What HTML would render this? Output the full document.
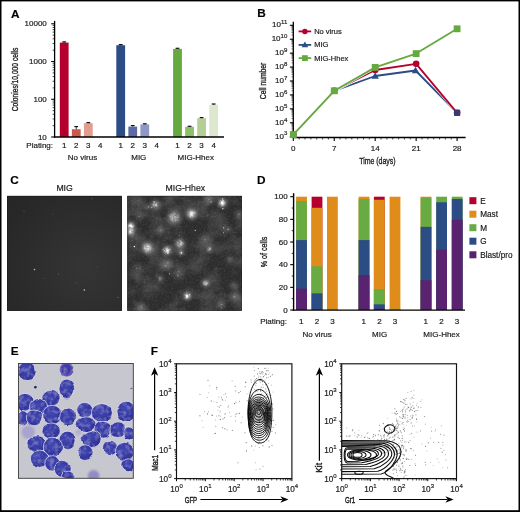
<!DOCTYPE html>
<html><head><meta charset="utf-8"><title>Figure</title>
<style>html,body{margin:0;padding:0;background:#fff;}body{width:520px;height:512px;overflow:hidden;}svg{display:block;}text{font-family:"Liberation Sans",sans-serif;stroke:#1a1a1a;stroke-width:0.18px;}text.c{stroke-width:0.32px;}text.f{stroke-width:0.42px;}</style>
</head><body>
<svg width="520" height="512" viewBox="0 0 520 512">
<rect x="0" y="0" width="520" height="512" fill="#fff"/>
<rect x="0" y="0" width="520" height="1.4" fill="#000"/><rect x="0" y="0" width="1.5" height="512" fill="#000"/><rect x="518.5" y="0" width="1.5" height="512" fill="#000"/><rect x="0" y="510.2" width="520" height="1.8" fill="#000"/>
<text x="10.90" y="17.60" font-size="11.8" text-anchor="start" font-weight="bold" fill="#000" >A</text>
<text x="257.20" y="17.40" font-size="11.8" text-anchor="start" font-weight="bold" fill="#000" >B</text>
<text x="10.25" y="184.10" font-size="11.8" text-anchor="start" font-weight="bold" fill="#000" >C</text>
<text x="257.05" y="184.20" font-size="11.8" text-anchor="start" font-weight="bold" fill="#000" >D</text>
<text x="10.70" y="355.40" font-size="11.8" text-anchor="start" font-weight="bold" fill="#000" >E</text>
<text x="150.70" y="355.40" font-size="11.8" text-anchor="start" font-weight="bold" fill="#000" >F</text>
<line x1="51.20" y1="23.80" x2="54.60" y2="23.80" stroke="#000" stroke-width="1.1" />
<text x="46.80" y="26.30" font-size="8" text-anchor="end" font-weight="normal" fill="#1a1a1a" >10000</text>
<line x1="52.60" y1="50.17" x2="54.60" y2="50.17" stroke="#000" stroke-width="0.7" />
<line x1="52.60" y1="43.53" x2="54.60" y2="43.53" stroke="#000" stroke-width="0.7" />
<line x1="52.60" y1="38.82" x2="54.60" y2="38.82" stroke="#000" stroke-width="0.7" />
<line x1="52.60" y1="35.16" x2="54.60" y2="35.16" stroke="#000" stroke-width="0.7" />
<line x1="52.60" y1="32.17" x2="54.60" y2="32.17" stroke="#000" stroke-width="0.7" />
<line x1="52.60" y1="29.64" x2="54.60" y2="29.64" stroke="#000" stroke-width="0.7" />
<line x1="52.60" y1="27.46" x2="54.60" y2="27.46" stroke="#000" stroke-width="0.7" />
<line x1="52.60" y1="25.53" x2="54.60" y2="25.53" stroke="#000" stroke-width="0.7" />
<line x1="51.20" y1="61.53" x2="54.60" y2="61.53" stroke="#000" stroke-width="1.1" />
<text x="46.80" y="64.03" font-size="8" text-anchor="end" font-weight="normal" fill="#1a1a1a" >1000</text>
<line x1="52.60" y1="87.91" x2="54.60" y2="87.91" stroke="#000" stroke-width="0.7" />
<line x1="52.60" y1="81.26" x2="54.60" y2="81.26" stroke="#000" stroke-width="0.7" />
<line x1="52.60" y1="76.55" x2="54.60" y2="76.55" stroke="#000" stroke-width="0.7" />
<line x1="52.60" y1="72.89" x2="54.60" y2="72.89" stroke="#000" stroke-width="0.7" />
<line x1="52.60" y1="69.90" x2="54.60" y2="69.90" stroke="#000" stroke-width="0.7" />
<line x1="52.60" y1="67.38" x2="54.60" y2="67.38" stroke="#000" stroke-width="0.7" />
<line x1="52.60" y1="65.19" x2="54.60" y2="65.19" stroke="#000" stroke-width="0.7" />
<line x1="52.60" y1="63.26" x2="54.60" y2="63.26" stroke="#000" stroke-width="0.7" />
<line x1="51.20" y1="99.27" x2="54.60" y2="99.27" stroke="#000" stroke-width="1.1" />
<text x="46.80" y="101.77" font-size="8" text-anchor="end" font-weight="normal" fill="#1a1a1a" >100</text>
<line x1="52.60" y1="125.64" x2="54.60" y2="125.64" stroke="#000" stroke-width="0.7" />
<line x1="52.60" y1="119.00" x2="54.60" y2="119.00" stroke="#000" stroke-width="0.7" />
<line x1="52.60" y1="114.28" x2="54.60" y2="114.28" stroke="#000" stroke-width="0.7" />
<line x1="52.60" y1="110.63" x2="54.60" y2="110.63" stroke="#000" stroke-width="0.7" />
<line x1="52.60" y1="107.64" x2="54.60" y2="107.64" stroke="#000" stroke-width="0.7" />
<line x1="52.60" y1="105.11" x2="54.60" y2="105.11" stroke="#000" stroke-width="0.7" />
<line x1="52.60" y1="102.92" x2="54.60" y2="102.92" stroke="#000" stroke-width="0.7" />
<line x1="52.60" y1="100.99" x2="54.60" y2="100.99" stroke="#000" stroke-width="0.7" />
<line x1="51.20" y1="137.00" x2="54.60" y2="137.00" stroke="#000" stroke-width="1.1" />
<text x="46.80" y="139.50" font-size="8" text-anchor="end" font-weight="normal" fill="#1a1a1a" >10</text>
<text x="18.30" y="79.50" font-size="9.5" text-anchor="middle" class="c" textLength="63.5" lengthAdjust="spacingAndGlyphs" fill="#1a1a1a" transform="rotate(-90 18.30 79.50)">Colonies/10,000 cells</text>
<rect x="59.80" y="42.60" width="8.80" height="94.40" fill="#B5002E" />
<line x1="64.20" y1="42.60" x2="64.20" y2="41.90" stroke="#222" stroke-width="0.9" />
<line x1="62.30" y1="41.90" x2="66.10" y2="41.90" stroke="#111" stroke-width="1.2" />
<rect x="71.85" y="129.20" width="8.80" height="7.80" fill="#CB584D" />
<line x1="76.25" y1="129.20" x2="76.25" y2="126.60" stroke="#222" stroke-width="0.9" />
<line x1="74.35" y1="126.60" x2="78.15" y2="126.60" stroke="#111" stroke-width="1.2" />
<rect x="83.90" y="123.20" width="8.80" height="13.80" fill="#E29D8E" />
<line x1="88.30" y1="123.20" x2="88.30" y2="122.60" stroke="#222" stroke-width="0.9" />
<line x1="86.40" y1="122.60" x2="90.20" y2="122.60" stroke="#111" stroke-width="1.2" />
<text x="64.20" y="148.20" font-size="8" text-anchor="middle" font-weight="normal" fill="#1a1a1a" >1</text>
<text x="76.25" y="148.20" font-size="8" text-anchor="middle" font-weight="normal" fill="#1a1a1a" >2</text>
<text x="88.30" y="148.20" font-size="8" text-anchor="middle" font-weight="normal" fill="#1a1a1a" >3</text>
<text x="100.35" y="148.20" font-size="8" text-anchor="middle" font-weight="normal" fill="#1a1a1a" >4</text>
<rect x="116.30" y="45.20" width="8.80" height="91.80" fill="#2C4C85" />
<line x1="120.70" y1="45.20" x2="120.70" y2="44.60" stroke="#222" stroke-width="0.9" />
<line x1="118.80" y1="44.60" x2="122.60" y2="44.60" stroke="#111" stroke-width="1.2" />
<rect x="128.35" y="126.60" width="8.80" height="10.40" fill="#5C6BA5" />
<line x1="132.75" y1="126.60" x2="132.75" y2="125.60" stroke="#222" stroke-width="0.9" />
<line x1="130.85" y1="125.60" x2="134.65" y2="125.60" stroke="#111" stroke-width="1.2" />
<rect x="140.40" y="124.40" width="8.80" height="12.60" fill="#8E97C6" />
<line x1="144.80" y1="124.40" x2="144.80" y2="123.80" stroke="#222" stroke-width="0.9" />
<line x1="142.90" y1="123.80" x2="146.70" y2="123.80" stroke="#111" stroke-width="1.2" />
<text x="120.70" y="148.20" font-size="8" text-anchor="middle" font-weight="normal" fill="#1a1a1a" >1</text>
<text x="132.75" y="148.20" font-size="8" text-anchor="middle" font-weight="normal" fill="#1a1a1a" >2</text>
<text x="144.80" y="148.20" font-size="8" text-anchor="middle" font-weight="normal" fill="#1a1a1a" >3</text>
<text x="156.85" y="148.20" font-size="8" text-anchor="middle" font-weight="normal" fill="#1a1a1a" >4</text>
<rect x="173.10" y="48.90" width="8.80" height="88.10" fill="#66A93F" />
<line x1="177.50" y1="48.90" x2="177.50" y2="48.30" stroke="#222" stroke-width="0.9" />
<line x1="175.60" y1="48.30" x2="179.40" y2="48.30" stroke="#111" stroke-width="1.2" />
<rect x="185.15" y="126.80" width="8.80" height="10.20" fill="#8DBE68" />
<line x1="189.55" y1="126.80" x2="189.55" y2="126.30" stroke="#222" stroke-width="0.9" />
<line x1="187.65" y1="126.30" x2="191.45" y2="126.30" stroke="#111" stroke-width="1.2" />
<rect x="197.20" y="118.20" width="8.80" height="18.80" fill="#B4CF95" />
<line x1="201.60" y1="118.20" x2="201.60" y2="117.60" stroke="#222" stroke-width="0.9" />
<line x1="199.70" y1="117.60" x2="203.50" y2="117.60" stroke="#111" stroke-width="1.2" />
<rect x="209.25" y="104.80" width="8.80" height="32.20" fill="#DDE7CE" />
<line x1="213.65" y1="104.80" x2="213.65" y2="104.00" stroke="#222" stroke-width="0.9" />
<line x1="211.75" y1="104.00" x2="215.55" y2="104.00" stroke="#111" stroke-width="1.2" />
<text x="177.50" y="148.20" font-size="8" text-anchor="middle" font-weight="normal" fill="#1a1a1a" >1</text>
<text x="189.55" y="148.20" font-size="8" text-anchor="middle" font-weight="normal" fill="#1a1a1a" >2</text>
<text x="201.60" y="148.20" font-size="8" text-anchor="middle" font-weight="normal" fill="#1a1a1a" >3</text>
<text x="213.65" y="148.20" font-size="8" text-anchor="middle" font-weight="normal" fill="#1a1a1a" >4</text>
<line x1="54.60" y1="20.90" x2="54.60" y2="137.65" stroke="#000" stroke-width="1.3" />
<line x1="53.95" y1="137.00" x2="224.00" y2="137.00" stroke="#000" stroke-width="1.3" />
<text x="53.00" y="148.20" font-size="8" text-anchor="end" font-weight="normal" fill="#1a1a1a" >Plating:</text>
<text x="82.50" y="160.20" font-size="8" text-anchor="middle" font-weight="normal" fill="#1a1a1a" >No virus</text>
<text x="138.80" y="160.20" font-size="8" text-anchor="middle" font-weight="normal" fill="#1a1a1a" >MIG</text>
<text x="195.80" y="160.20" font-size="8" text-anchor="middle" font-weight="normal" fill="#1a1a1a" >MIG-Hhex</text>
<line x1="293.30" y1="21.80" x2="293.30" y2="138.10" stroke="#000" stroke-width="1.3" />
<line x1="292.70" y1="137.50" x2="465.60" y2="137.50" stroke="#000" stroke-width="1.3" />
<line x1="289.90" y1="136.70" x2="293.30" y2="136.70" stroke="#000" stroke-width="1.1" />
<text x="287.30" y="138.80" font-size="8" text-anchor="end" fill="#1a1a1a">10<tspan font-size="6.08" dy="-3.36">3</tspan></text>
<line x1="291.50" y1="132.51" x2="293.30" y2="132.51" stroke="#000" stroke-width="0.5" />
<line x1="291.50" y1="130.06" x2="293.30" y2="130.06" stroke="#000" stroke-width="0.5" />
<line x1="291.50" y1="128.32" x2="293.30" y2="128.32" stroke="#000" stroke-width="0.5" />
<line x1="291.50" y1="126.97" x2="293.30" y2="126.97" stroke="#000" stroke-width="0.5" />
<line x1="291.50" y1="125.86" x2="293.30" y2="125.86" stroke="#000" stroke-width="0.5" />
<line x1="291.50" y1="124.93" x2="293.30" y2="124.93" stroke="#000" stroke-width="0.5" />
<line x1="291.50" y1="124.12" x2="293.30" y2="124.12" stroke="#000" stroke-width="0.5" />
<line x1="291.50" y1="123.41" x2="293.30" y2="123.41" stroke="#000" stroke-width="0.5" />
<line x1="289.90" y1="122.77" x2="293.30" y2="122.77" stroke="#000" stroke-width="1.1" />
<text x="287.30" y="124.87" font-size="8" text-anchor="end" fill="#1a1a1a">10<tspan font-size="6.08" dy="-3.36">4</tspan></text>
<line x1="291.50" y1="118.58" x2="293.30" y2="118.58" stroke="#000" stroke-width="0.5" />
<line x1="291.50" y1="116.13" x2="293.30" y2="116.13" stroke="#000" stroke-width="0.5" />
<line x1="291.50" y1="114.39" x2="293.30" y2="114.39" stroke="#000" stroke-width="0.5" />
<line x1="291.50" y1="113.04" x2="293.30" y2="113.04" stroke="#000" stroke-width="0.5" />
<line x1="291.50" y1="111.94" x2="293.30" y2="111.94" stroke="#000" stroke-width="0.5" />
<line x1="291.50" y1="111.01" x2="293.30" y2="111.01" stroke="#000" stroke-width="0.5" />
<line x1="291.50" y1="110.20" x2="293.30" y2="110.20" stroke="#000" stroke-width="0.5" />
<line x1="291.50" y1="109.49" x2="293.30" y2="109.49" stroke="#000" stroke-width="0.5" />
<line x1="289.90" y1="108.85" x2="293.30" y2="108.85" stroke="#000" stroke-width="1.1" />
<text x="287.30" y="110.95" font-size="8" text-anchor="end" fill="#1a1a1a">10<tspan font-size="6.08" dy="-3.36">5</tspan></text>
<line x1="291.50" y1="104.66" x2="293.30" y2="104.66" stroke="#000" stroke-width="0.5" />
<line x1="291.50" y1="102.21" x2="293.30" y2="102.21" stroke="#000" stroke-width="0.5" />
<line x1="291.50" y1="100.47" x2="293.30" y2="100.47" stroke="#000" stroke-width="0.5" />
<line x1="291.50" y1="99.12" x2="293.30" y2="99.12" stroke="#000" stroke-width="0.5" />
<line x1="291.50" y1="98.01" x2="293.30" y2="98.01" stroke="#000" stroke-width="0.5" />
<line x1="291.50" y1="97.08" x2="293.30" y2="97.08" stroke="#000" stroke-width="0.5" />
<line x1="291.50" y1="96.27" x2="293.30" y2="96.27" stroke="#000" stroke-width="0.5" />
<line x1="291.50" y1="95.56" x2="293.30" y2="95.56" stroke="#000" stroke-width="0.5" />
<line x1="289.90" y1="94.92" x2="293.30" y2="94.92" stroke="#000" stroke-width="1.1" />
<text x="287.30" y="97.02" font-size="8" text-anchor="end" fill="#1a1a1a">10<tspan font-size="6.08" dy="-3.36">6</tspan></text>
<line x1="291.50" y1="90.73" x2="293.30" y2="90.73" stroke="#000" stroke-width="0.5" />
<line x1="291.50" y1="88.28" x2="293.30" y2="88.28" stroke="#000" stroke-width="0.5" />
<line x1="291.50" y1="86.54" x2="293.30" y2="86.54" stroke="#000" stroke-width="0.5" />
<line x1="291.50" y1="85.19" x2="293.30" y2="85.19" stroke="#000" stroke-width="0.5" />
<line x1="291.50" y1="84.09" x2="293.30" y2="84.09" stroke="#000" stroke-width="0.5" />
<line x1="291.50" y1="83.16" x2="293.30" y2="83.16" stroke="#000" stroke-width="0.5" />
<line x1="291.50" y1="82.35" x2="293.30" y2="82.35" stroke="#000" stroke-width="0.5" />
<line x1="291.50" y1="81.64" x2="293.30" y2="81.64" stroke="#000" stroke-width="0.5" />
<line x1="289.90" y1="81.00" x2="293.30" y2="81.00" stroke="#000" stroke-width="1.1" />
<text x="287.30" y="83.10" font-size="8" text-anchor="end" fill="#1a1a1a">10<tspan font-size="6.08" dy="-3.36">7</tspan></text>
<line x1="291.50" y1="76.81" x2="293.30" y2="76.81" stroke="#000" stroke-width="0.5" />
<line x1="291.50" y1="74.36" x2="293.30" y2="74.36" stroke="#000" stroke-width="0.5" />
<line x1="291.50" y1="72.62" x2="293.30" y2="72.62" stroke="#000" stroke-width="0.5" />
<line x1="291.50" y1="71.27" x2="293.30" y2="71.27" stroke="#000" stroke-width="0.5" />
<line x1="291.50" y1="70.16" x2="293.30" y2="70.16" stroke="#000" stroke-width="0.5" />
<line x1="291.50" y1="69.23" x2="293.30" y2="69.23" stroke="#000" stroke-width="0.5" />
<line x1="291.50" y1="68.42" x2="293.30" y2="68.42" stroke="#000" stroke-width="0.5" />
<line x1="291.50" y1="67.71" x2="293.30" y2="67.71" stroke="#000" stroke-width="0.5" />
<line x1="289.90" y1="67.07" x2="293.30" y2="67.07" stroke="#000" stroke-width="1.1" />
<text x="287.30" y="69.17" font-size="8" text-anchor="end" fill="#1a1a1a">10<tspan font-size="6.08" dy="-3.36">8</tspan></text>
<line x1="291.50" y1="62.88" x2="293.30" y2="62.88" stroke="#000" stroke-width="0.5" />
<line x1="291.50" y1="60.43" x2="293.30" y2="60.43" stroke="#000" stroke-width="0.5" />
<line x1="291.50" y1="58.69" x2="293.30" y2="58.69" stroke="#000" stroke-width="0.5" />
<line x1="291.50" y1="57.34" x2="293.30" y2="57.34" stroke="#000" stroke-width="0.5" />
<line x1="291.50" y1="56.24" x2="293.30" y2="56.24" stroke="#000" stroke-width="0.5" />
<line x1="291.50" y1="55.31" x2="293.30" y2="55.31" stroke="#000" stroke-width="0.5" />
<line x1="291.50" y1="54.50" x2="293.30" y2="54.50" stroke="#000" stroke-width="0.5" />
<line x1="291.50" y1="53.79" x2="293.30" y2="53.79" stroke="#000" stroke-width="0.5" />
<line x1="289.90" y1="53.15" x2="293.30" y2="53.15" stroke="#000" stroke-width="1.1" />
<text x="287.30" y="55.25" font-size="8" text-anchor="end" fill="#1a1a1a">10<tspan font-size="6.08" dy="-3.36">9</tspan></text>
<line x1="291.50" y1="48.96" x2="293.30" y2="48.96" stroke="#000" stroke-width="0.5" />
<line x1="291.50" y1="46.51" x2="293.30" y2="46.51" stroke="#000" stroke-width="0.5" />
<line x1="291.50" y1="44.77" x2="293.30" y2="44.77" stroke="#000" stroke-width="0.5" />
<line x1="291.50" y1="43.42" x2="293.30" y2="43.42" stroke="#000" stroke-width="0.5" />
<line x1="291.50" y1="42.31" x2="293.30" y2="42.31" stroke="#000" stroke-width="0.5" />
<line x1="291.50" y1="41.38" x2="293.30" y2="41.38" stroke="#000" stroke-width="0.5" />
<line x1="291.50" y1="40.57" x2="293.30" y2="40.57" stroke="#000" stroke-width="0.5" />
<line x1="291.50" y1="39.86" x2="293.30" y2="39.86" stroke="#000" stroke-width="0.5" />
<line x1="289.90" y1="39.22" x2="293.30" y2="39.22" stroke="#000" stroke-width="1.1" />
<text x="287.30" y="41.32" font-size="8" text-anchor="end" fill="#1a1a1a">10<tspan font-size="6.08" dy="-3.36">10</tspan></text>
<line x1="291.50" y1="35.03" x2="293.30" y2="35.03" stroke="#000" stroke-width="0.5" />
<line x1="291.50" y1="32.58" x2="293.30" y2="32.58" stroke="#000" stroke-width="0.5" />
<line x1="291.50" y1="30.84" x2="293.30" y2="30.84" stroke="#000" stroke-width="0.5" />
<line x1="291.50" y1="29.49" x2="293.30" y2="29.49" stroke="#000" stroke-width="0.5" />
<line x1="291.50" y1="28.39" x2="293.30" y2="28.39" stroke="#000" stroke-width="0.5" />
<line x1="291.50" y1="27.46" x2="293.30" y2="27.46" stroke="#000" stroke-width="0.5" />
<line x1="291.50" y1="26.65" x2="293.30" y2="26.65" stroke="#000" stroke-width="0.5" />
<line x1="291.50" y1="25.94" x2="293.30" y2="25.94" stroke="#000" stroke-width="0.5" />
<line x1="289.90" y1="25.30" x2="293.30" y2="25.30" stroke="#000" stroke-width="1.1" />
<text x="287.30" y="27.40" font-size="8" text-anchor="end" fill="#1a1a1a">10<tspan font-size="6.08" dy="-3.36">11</tspan></text>
<line x1="293.30" y1="137.50" x2="293.30" y2="140.90" stroke="#000" stroke-width="1.1" />
<text x="293.30" y="151.20" font-size="8" text-anchor="middle" font-weight="normal" fill="#1a1a1a" >0</text>
<line x1="299.15" y1="137.50" x2="299.15" y2="139.50" stroke="#000" stroke-width="0.7" />
<line x1="305.00" y1="137.50" x2="305.00" y2="139.50" stroke="#000" stroke-width="0.7" />
<line x1="310.85" y1="137.50" x2="310.85" y2="139.50" stroke="#000" stroke-width="0.7" />
<line x1="316.70" y1="137.50" x2="316.70" y2="139.50" stroke="#000" stroke-width="0.7" />
<line x1="322.55" y1="137.50" x2="322.55" y2="139.50" stroke="#000" stroke-width="0.7" />
<line x1="328.40" y1="137.50" x2="328.40" y2="139.50" stroke="#000" stroke-width="0.7" />
<line x1="334.25" y1="137.50" x2="334.25" y2="140.90" stroke="#000" stroke-width="1.1" />
<text x="334.25" y="151.20" font-size="8" text-anchor="middle" font-weight="normal" fill="#1a1a1a" >7</text>
<line x1="340.10" y1="137.50" x2="340.10" y2="139.50" stroke="#000" stroke-width="0.7" />
<line x1="345.95" y1="137.50" x2="345.95" y2="139.50" stroke="#000" stroke-width="0.7" />
<line x1="351.80" y1="137.50" x2="351.80" y2="139.50" stroke="#000" stroke-width="0.7" />
<line x1="357.65" y1="137.50" x2="357.65" y2="139.50" stroke="#000" stroke-width="0.7" />
<line x1="363.50" y1="137.50" x2="363.50" y2="139.50" stroke="#000" stroke-width="0.7" />
<line x1="369.35" y1="137.50" x2="369.35" y2="139.50" stroke="#000" stroke-width="0.7" />
<line x1="375.20" y1="137.50" x2="375.20" y2="140.90" stroke="#000" stroke-width="1.1" />
<text x="375.20" y="151.20" font-size="8" text-anchor="middle" font-weight="normal" fill="#1a1a1a" >14</text>
<line x1="381.05" y1="137.50" x2="381.05" y2="139.50" stroke="#000" stroke-width="0.7" />
<line x1="386.90" y1="137.50" x2="386.90" y2="139.50" stroke="#000" stroke-width="0.7" />
<line x1="392.75" y1="137.50" x2="392.75" y2="139.50" stroke="#000" stroke-width="0.7" />
<line x1="398.60" y1="137.50" x2="398.60" y2="139.50" stroke="#000" stroke-width="0.7" />
<line x1="404.45" y1="137.50" x2="404.45" y2="139.50" stroke="#000" stroke-width="0.7" />
<line x1="410.30" y1="137.50" x2="410.30" y2="139.50" stroke="#000" stroke-width="0.7" />
<line x1="416.15" y1="137.50" x2="416.15" y2="140.90" stroke="#000" stroke-width="1.1" />
<text x="416.15" y="151.20" font-size="8" text-anchor="middle" font-weight="normal" fill="#1a1a1a" >21</text>
<line x1="422.00" y1="137.50" x2="422.00" y2="139.50" stroke="#000" stroke-width="0.7" />
<line x1="427.85" y1="137.50" x2="427.85" y2="139.50" stroke="#000" stroke-width="0.7" />
<line x1="433.70" y1="137.50" x2="433.70" y2="139.50" stroke="#000" stroke-width="0.7" />
<line x1="439.55" y1="137.50" x2="439.55" y2="139.50" stroke="#000" stroke-width="0.7" />
<line x1="445.40" y1="137.50" x2="445.40" y2="139.50" stroke="#000" stroke-width="0.7" />
<line x1="451.25" y1="137.50" x2="451.25" y2="139.50" stroke="#000" stroke-width="0.7" />
<line x1="457.10" y1="137.50" x2="457.10" y2="140.90" stroke="#000" stroke-width="1.1" />
<text x="457.10" y="151.20" font-size="8" text-anchor="middle" font-weight="normal" fill="#1a1a1a" >28</text>
<text x="266.30" y="80.90" font-size="9.5" text-anchor="middle" class="c" textLength="36.5" lengthAdjust="spacingAndGlyphs" fill="#1a1a1a" transform="rotate(-90 266.30 80.90)">Cell number</text>
<text x="377.40" y="164.40" font-size="9.5" text-anchor="middle" class="c" textLength="36.5" lengthAdjust="spacingAndGlyphs" fill="#1a1a1a">Time (days)</text>
<polyline points="293.30,134.60 334.25,90.80 375.20,76.00 415.55,70.50 457.10,112.80" fill="none" stroke="#fff" stroke-width="3.0" stroke-linejoin="round" opacity="0.9"/>
<polyline points="293.30,134.60 334.25,90.80 375.20,76.00 415.55,70.50 457.10,112.80" fill="none" stroke="#2C4C85" stroke-width="1.8" stroke-linejoin="round"/>
<polyline points="293.30,134.60 334.25,90.80 375.20,70.00 416.15,63.80 457.10,112.80" fill="none" stroke="#fff" stroke-width="3.0" stroke-linejoin="round" opacity="0.9"/>
<polyline points="293.30,134.60 334.25,90.80 375.20,70.00 416.15,63.80 457.10,112.80" fill="none" stroke="#B5002E" stroke-width="1.8" stroke-linejoin="round"/>
<polyline points="293.30,134.60 334.25,90.80 375.20,67.40 416.15,53.60 457.10,28.80" fill="none" stroke="#fff" stroke-width="3.0" stroke-linejoin="round" opacity="0.9"/>
<polyline points="293.30,134.60 334.25,90.80 375.20,67.40 416.15,53.60 457.10,28.80" fill="none" stroke="#66A93F" stroke-width="1.8" stroke-linejoin="round"/>
<circle cx="293.30" cy="134.60" r="3.3" fill="#B5002E"/>
<circle cx="334.25" cy="90.80" r="3.3" fill="#B5002E"/>
<circle cx="375.20" cy="70.00" r="3.3" fill="#B5002E"/>
<circle cx="416.15" cy="63.80" r="3.3" fill="#B5002E"/>
<circle cx="457.10" cy="112.80" r="3.3" fill="#B5002E"/>
<polygon points="293.30,130.90 289.60,137.26 297.00,137.26" fill="#2C4C85"/>
<polygon points="334.25,87.10 330.55,93.46 337.95,93.46" fill="#2C4C85"/>
<polygon points="375.20,72.30 371.50,78.66 378.90,78.66" fill="#2C4C85"/>
<polygon points="415.55,66.80 411.85,73.16 419.25,73.16" fill="#2C4C85"/>
<rect x="454.00" y="109.70" width="6.20" height="6.20" fill="#3A3A70" />
<rect x="289.90" y="131.20" width="6.80" height="6.80" fill="#66A93F" />
<rect x="330.85" y="87.40" width="6.80" height="6.80" fill="#66A93F" />
<rect x="371.80" y="64.00" width="6.80" height="6.80" fill="#66A93F" />
<rect x="412.75" y="50.20" width="6.80" height="6.80" fill="#66A93F" />
<rect x="453.70" y="25.40" width="6.80" height="6.80" fill="#66A93F" />
<line x1="298.60" y1="31.40" x2="311.20" y2="31.40" stroke="#B5002E" stroke-width="1.8" />
<circle cx="304.90" cy="31.40" r="2.75" fill="#B5002E"/>
<text x="314.20" y="33.90" font-size="7.5" text-anchor="start" font-weight="normal" fill="#1a1a1a" >No virus</text>
<line x1="298.60" y1="44.90" x2="311.20" y2="44.90" stroke="#2C4C85" stroke-width="1.8" />
<polygon points="304.90,41.60 301.60,47.28 308.20,47.28" fill="#2C4C85"/>
<text x="314.20" y="47.40" font-size="7.5" text-anchor="start" font-weight="normal" fill="#1a1a1a" >MIG</text>
<line x1="298.60" y1="58.10" x2="311.20" y2="58.10" stroke="#66A93F" stroke-width="1.8" />
<rect x="302.00" y="55.20" width="5.80" height="5.80" fill="#66A93F" />
<text x="314.20" y="60.60" font-size="7.5" text-anchor="start" font-weight="normal" fill="#1a1a1a" >MIG-Hhex</text>
<defs>
<radialGradient id="cbg" cx="0.68" cy="0.62" r="0.8"><stop offset="0" stop-color="#353535"/><stop offset="0.5" stop-color="#2e2e2e"/><stop offset="1" stop-color="#272727"/></radialGradient>
<filter id="b05" x="-50%" y="-50%" width="200%" height="200%"><feGaussianBlur stdDeviation="0.45"/></filter>
<filter id="gr1" filterUnits="userSpaceOnUse" x="120" y="190" width="130" height="126"><feGaussianBlur stdDeviation="1.0" result="b"/><feTurbulence type="fractalNoise" baseFrequency="0.42" numOctaves="2" seed="4" result="n"/><feColorMatrix in="n" type="matrix" values="0 0 0 0 1  0 0 0 0 1  0 0 0 0 1  2.6 0 0 0 -0.55" result="na"/><feComposite in="b" in2="na" operator="in" result="g"/><feGaussianBlur in="g" stdDeviation="0.45"/></filter>
<filter id="gr2" filterUnits="userSpaceOnUse" x="120" y="190" width="130" height="126"><feGaussianBlur stdDeviation="2.1"/></filter>
<filter id="cloud" filterUnits="userSpaceOnUse" x="120" y="190" width="130" height="126"><feTurbulence type="fractalNoise" baseFrequency="0.055" numOctaves="3" seed="11" result="n"/><feColorMatrix in="n" type="matrix" values="0 0 0 0 1  0 0 0 0 1  0 0 0 0 1  0.36 0 0 0 -0.145"/></filter>
<filter id="fine" filterUnits="userSpaceOnUse" x="120" y="190" width="130" height="126"><feTurbulence type="fractalNoise" baseFrequency="0.5" numOctaves="1" seed="2" result="n"/><feColorMatrix in="n" type="matrix" values="0 0 0 0 1  0 0 0 0 1  0 0 0 0 1  0.2 0 0 0 -0.085"/></filter>
<clipPath id="cc1"><rect x="7.0" y="195.9" width="114.9" height="114.9"/></clipPath>
<clipPath id="cc2"><rect x="127.3" y="195.9" width="114.6" height="114.9"/></clipPath>
</defs>
<text x="64.60" y="190.50" font-size="8.7" text-anchor="middle" font-weight="normal" fill="#1a1a1a" >MIG</text>
<text x="185.30" y="190.50" font-size="8.7" text-anchor="middle" font-weight="normal" fill="#1a1a1a" >MIG-Hhex</text>
<rect x="7.00" y="195.90" width="114.90" height="114.90" fill="url(#cbg)" />
<rect x="127.30" y="195.90" width="114.60" height="114.90" fill="#2c2c2c" />
<rect x="7.4" y="196.3" width="114.1" height="114.1" fill="none" stroke="#1f1f1f" stroke-width="0.8"/>
<rect x="127.7" y="196.3" width="113.8" height="114.1" fill="none" stroke="#1f1f1f" stroke-width="0.8"/>
<g clip-path="url(#cc1)">
<circle cx="34.55" cy="269.56" r="0.8" fill="#fff" opacity="0.7" filter="url(#b05)"/>
<circle cx="84.33" cy="290.06" r="0.8" fill="#fff" opacity="0.75" filter="url(#b05)"/>
<circle cx="118.01" cy="297.38" r="0.6" fill="#fff" opacity="0.35" filter="url(#b05)"/>
<circle cx="24.01" cy="211.00" r="0.6" fill="#fff" opacity="0.25" filter="url(#b05)"/>
<circle cx="58.57" cy="273.95" r="0.6" fill="#fff" opacity="0.2" filter="url(#b05)"/>
<circle cx="92.24" cy="198.70" r="0.6" fill="#fff" opacity="0.2" filter="url(#b05)"/>
<circle cx="43.92" cy="278.35" r="0.5" fill="#fff" opacity="0.2" filter="url(#b05)"/>
<circle cx="76.13" cy="282.74" r="0.5" fill="#fff" opacity="0.2" filter="url(#b05)"/>
<circle cx="52.71" cy="213.92" r="0.5" fill="#fff" opacity="0.2" filter="url(#b05)"/>
<circle cx="96.63" cy="266.63" r="0.5" fill="#fff" opacity="0.15" filter="url(#b05)"/>
</g>
<g clip-path="url(#cc2)">
<rect x="127" y="195" width="116" height="116" fill="#fff" filter="url(#cloud)"/>
<rect x="127" y="195" width="116" height="116" fill="#fff" filter="url(#fine)"/>
<g filter="url(#gr2)">
<circle cx="222.26" cy="203.08" r="3.80" fill="#fff" opacity="0.59"/>
<circle cx="208.20" cy="199.56" r="4.75" fill="#fff" opacity="0.28"/>
<circle cx="155.47" cy="204.72" r="4.43" fill="#fff" opacity="0.31"/>
<circle cx="148.44" cy="207.06" r="2.53" fill="#fff" opacity="0.28"/>
<circle cx="191.79" cy="214.09" r="5.06" fill="#fff" opacity="0.46"/>
<circle cx="174.21" cy="217.61" r="6.96" fill="#fff" opacity="0.25"/>
<circle cx="238.66" cy="214.09" r="2.53" fill="#fff" opacity="0.37"/>
<circle cx="130.86" cy="225.81" r="3.48" fill="#fff" opacity="0.56"/>
<circle cx="130.86" cy="231.67" r="3.48" fill="#fff" opacity="0.50"/>
<circle cx="160.15" cy="230.03" r="3.16" fill="#fff" opacity="0.28"/>
<circle cx="228.12" cy="229.33" r="2.53" fill="#fff" opacity="0.28"/>
<circle cx="147.26" cy="248.07" r="5.69" fill="#fff" opacity="0.37"/>
<circle cx="167.18" cy="250.42" r="4.43" fill="#fff" opacity="0.43"/>
<circle cx="180.07" cy="243.39" r="5.06" fill="#fff" opacity="0.28"/>
<circle cx="181.25" cy="252.76" r="2.53" fill="#fff" opacity="0.31"/>
<circle cx="209.37" cy="249.25" r="2.53" fill="#fff" opacity="0.31"/>
<circle cx="167.18" cy="264.48" r="5.06" fill="#fff" opacity="0.28"/>
<circle cx="230.46" cy="259.79" r="3.16" fill="#fff" opacity="0.28"/>
<circle cx="160.15" cy="278.54" r="2.53" fill="#fff" opacity="0.25"/>
<circle cx="178.90" cy="273.85" r="5.69" fill="#fff" opacity="0.15"/>
<circle cx="205.85" cy="283.23" r="4.11" fill="#fff" opacity="0.31"/>
<circle cx="187.10" cy="296.12" r="3.16" fill="#fff" opacity="0.61"/>
<circle cx="233.98" cy="285.57" r="3.16" fill="#fff" opacity="0.28"/>
<circle cx="235.15" cy="296.12" r="3.80" fill="#fff" opacity="0.28"/>
<circle cx="221.09" cy="304.32" r="3.80" fill="#fff" opacity="0.28"/>
<circle cx="141.40" cy="307.83" r="4.43" fill="#fff" opacity="0.28"/>
<circle cx="204.68" cy="242.21" r="4.43" fill="#fff" opacity="0.12"/>
<circle cx="139.06" cy="216.44" r="4.43" fill="#fff" opacity="0.12"/>
<circle cx="136.72" cy="270.34" r="6.33" fill="#fff" opacity="0.09"/>
<circle cx="214.06" cy="216.44" r="6.33" fill="#fff" opacity="0.09"/>
<circle cx="195.31" cy="263.31" r="7.91" fill="#fff" opacity="0.07"/>
<circle cx="148.44" cy="291.43" r="7.91" fill="#fff" opacity="0.06"/>
</g>
<g filter="url(#gr1)">
<circle cx="222.26" cy="203.08" r="2.39" fill="#fff" opacity="1.00"/>
<circle cx="155.47" cy="204.72" r="2.79" fill="#fff" opacity="0.55"/>
<circle cx="191.79" cy="214.09" r="3.19" fill="#fff" opacity="0.83"/>
<circle cx="174.21" cy="217.61" r="4.38" fill="#fff" opacity="0.44"/>
<circle cx="130.86" cy="225.81" r="2.19" fill="#fff" opacity="0.99"/>
<circle cx="130.86" cy="231.67" r="2.19" fill="#fff" opacity="0.88"/>
<circle cx="147.26" cy="248.07" r="3.59" fill="#fff" opacity="0.66"/>
<circle cx="167.18" cy="250.42" r="2.79" fill="#fff" opacity="0.77"/>
<circle cx="180.07" cy="243.39" r="3.19" fill="#fff" opacity="0.50"/>
<circle cx="181.25" cy="252.76" r="1.59" fill="#fff" opacity="0.55"/>
<circle cx="209.37" cy="249.25" r="1.59" fill="#fff" opacity="0.55"/>
<circle cx="160.15" cy="278.54" r="1.59" fill="#fff" opacity="0.44"/>
<circle cx="205.85" cy="283.23" r="2.59" fill="#fff" opacity="0.55"/>
<circle cx="187.10" cy="296.12" r="1.99" fill="#fff" opacity="1.00"/>
</g>
<circle cx="222.26" cy="203.08" r="1.27" fill="#fff" opacity="0.95" filter="url(#b05)"/>
<circle cx="222.67" cy="203.85" r="0.45" fill="#fff" opacity="0.59" filter="url(#b05)"/>
<circle cx="222.80" cy="200.91" r="0.58" fill="#fff" opacity="0.78" filter="url(#b05)"/>
<circle cx="222.25" cy="203.08" r="0.61" fill="#fff" opacity="0.52" filter="url(#b05)"/>
<circle cx="222.37" cy="203.13" r="0.45" fill="#fff" opacity="0.78" filter="url(#b05)"/>
<circle cx="222.82" cy="208.74" r="0.74" fill="#fff" opacity="0.74" filter="url(#b05)"/>
<circle cx="221.21" cy="202.04" r="0.50" fill="#fff" opacity="0.32" filter="url(#b05)"/>
<circle cx="219.41" cy="203.13" r="0.42" fill="#fff" opacity="0.52" filter="url(#b05)"/>
<circle cx="223.30" cy="200.54" r="0.77" fill="#fff" opacity="0.37" filter="url(#b05)"/>
<circle cx="220.97" cy="203.51" r="0.43" fill="#fff" opacity="0.59" filter="url(#b05)"/>
<circle cx="222.70" cy="203.19" r="0.46" fill="#fff" opacity="0.82" filter="url(#b05)"/>
<circle cx="222.46" cy="201.94" r="0.69" fill="#fff" opacity="0.84" filter="url(#b05)"/>
<circle cx="222.57" cy="198.76" r="0.68" fill="#fff" opacity="0.65" filter="url(#b05)"/>
<circle cx="210.77" cy="202.30" r="0.77" fill="#fff" opacity="0.19" filter="url(#b05)"/>
<circle cx="208.60" cy="199.18" r="0.51" fill="#fff" opacity="0.25" filter="url(#b05)"/>
<circle cx="203.69" cy="201.13" r="0.36" fill="#fff" opacity="0.24" filter="url(#b05)"/>
<circle cx="211.64" cy="202.07" r="0.80" fill="#fff" opacity="0.33" filter="url(#b05)"/>
<circle cx="153.19" cy="204.78" r="0.45" fill="#fff" opacity="0.47" filter="url(#b05)"/>
<circle cx="155.37" cy="204.63" r="0.63" fill="#fff" opacity="0.40" filter="url(#b05)"/>
<circle cx="155.81" cy="205.52" r="0.51" fill="#fff" opacity="0.54" filter="url(#b05)"/>
<circle cx="154.27" cy="203.79" r="0.40" fill="#fff" opacity="0.30" filter="url(#b05)"/>
<circle cx="156.58" cy="205.25" r="0.66" fill="#fff" opacity="0.33" filter="url(#b05)"/>
<circle cx="154.17" cy="201.89" r="0.78" fill="#fff" opacity="0.52" filter="url(#b05)"/>
<circle cx="151.63" cy="207.51" r="0.75" fill="#fff" opacity="0.41" filter="url(#b05)"/>
<circle cx="155.15" cy="204.74" r="0.46" fill="#fff" opacity="0.33" filter="url(#b05)"/>
<circle cx="148.58" cy="206.90" r="0.70" fill="#fff" opacity="0.36" filter="url(#b05)"/>
<circle cx="148.10" cy="207.10" r="0.37" fill="#fff" opacity="0.37" filter="url(#b05)"/>
<circle cx="191.76" cy="214.68" r="0.38" fill="#fff" opacity="0.34" filter="url(#b05)"/>
<circle cx="190.70" cy="216.04" r="0.79" fill="#fff" opacity="0.70" filter="url(#b05)"/>
<circle cx="191.75" cy="212.38" r="0.59" fill="#fff" opacity="0.73" filter="url(#b05)"/>
<circle cx="191.76" cy="213.87" r="0.45" fill="#fff" opacity="0.26" filter="url(#b05)"/>
<circle cx="192.42" cy="212.98" r="0.54" fill="#fff" opacity="0.55" filter="url(#b05)"/>
<circle cx="188.22" cy="211.90" r="0.49" fill="#fff" opacity="0.67" filter="url(#b05)"/>
<circle cx="191.23" cy="213.96" r="0.66" fill="#fff" opacity="0.26" filter="url(#b05)"/>
<circle cx="195.13" cy="213.00" r="0.62" fill="#fff" opacity="0.26" filter="url(#b05)"/>
<circle cx="190.78" cy="212.68" r="0.53" fill="#fff" opacity="0.38" filter="url(#b05)"/>
<circle cx="193.91" cy="213.47" r="0.41" fill="#fff" opacity="0.70" filter="url(#b05)"/>
<circle cx="192.11" cy="214.33" r="0.41" fill="#fff" opacity="0.47" filter="url(#b05)"/>
<circle cx="191.97" cy="213.88" r="0.41" fill="#fff" opacity="0.58" filter="url(#b05)"/>
<circle cx="172.77" cy="217.21" r="0.42" fill="#fff" opacity="0.23" filter="url(#b05)"/>
<circle cx="175.41" cy="220.58" r="0.67" fill="#fff" opacity="0.29" filter="url(#b05)"/>
<circle cx="170.14" cy="216.15" r="0.70" fill="#fff" opacity="0.45" filter="url(#b05)"/>
<circle cx="174.54" cy="216.25" r="0.56" fill="#fff" opacity="0.17" filter="url(#b05)"/>
<circle cx="174.36" cy="217.67" r="0.46" fill="#fff" opacity="0.39" filter="url(#b05)"/>
<circle cx="173.64" cy="215.79" r="0.37" fill="#fff" opacity="0.26" filter="url(#b05)"/>
<circle cx="172.51" cy="219.18" r="0.58" fill="#fff" opacity="0.26" filter="url(#b05)"/>
<circle cx="168.81" cy="215.70" r="0.39" fill="#fff" opacity="0.47" filter="url(#b05)"/>
<circle cx="170.50" cy="214.60" r="0.49" fill="#fff" opacity="0.48" filter="url(#b05)"/>
<circle cx="238.64" cy="214.00" r="0.60" fill="#fff" opacity="0.33" filter="url(#b05)"/>
<circle cx="239.69" cy="214.57" r="0.49" fill="#fff" opacity="0.28" filter="url(#b05)"/>
<circle cx="130.86" cy="225.81" r="1.16" fill="#fff" opacity="0.90" filter="url(#b05)"/>
<circle cx="134.43" cy="225.64" r="0.38" fill="#fff" opacity="0.35" filter="url(#b05)"/>
<circle cx="131.70" cy="226.27" r="0.63" fill="#fff" opacity="0.55" filter="url(#b05)"/>
<circle cx="133.04" cy="226.11" r="0.55" fill="#fff" opacity="0.66" filter="url(#b05)"/>
<circle cx="129.76" cy="225.68" r="0.37" fill="#fff" opacity="0.42" filter="url(#b05)"/>
<circle cx="130.02" cy="226.22" r="0.67" fill="#fff" opacity="0.43" filter="url(#b05)"/>
<circle cx="130.96" cy="225.55" r="0.52" fill="#fff" opacity="0.42" filter="url(#b05)"/>
<circle cx="129.32" cy="225.95" r="0.78" fill="#fff" opacity="0.65" filter="url(#b05)"/>
<circle cx="132.27" cy="226.73" r="0.75" fill="#fff" opacity="0.70" filter="url(#b05)"/>
<circle cx="130.90" cy="225.58" r="0.69" fill="#fff" opacity="0.65" filter="url(#b05)"/>
<circle cx="130.17" cy="224.48" r="0.46" fill="#fff" opacity="0.68" filter="url(#b05)"/>
<circle cx="132.33" cy="230.73" r="0.63" fill="#fff" opacity="0.47" filter="url(#b05)"/>
<circle cx="132.74" cy="227.59" r="0.49" fill="#fff" opacity="0.27" filter="url(#b05)"/>
<circle cx="130.49" cy="232.65" r="0.42" fill="#fff" opacity="0.47" filter="url(#b05)"/>
<circle cx="129.86" cy="231.29" r="0.68" fill="#fff" opacity="0.76" filter="url(#b05)"/>
<circle cx="130.30" cy="231.82" r="0.78" fill="#fff" opacity="0.32" filter="url(#b05)"/>
<circle cx="130.76" cy="231.30" r="0.66" fill="#fff" opacity="0.60" filter="url(#b05)"/>
<circle cx="130.77" cy="233.02" r="0.49" fill="#fff" opacity="0.76" filter="url(#b05)"/>
<circle cx="130.85" cy="232.18" r="0.44" fill="#fff" opacity="0.62" filter="url(#b05)"/>
<circle cx="130.31" cy="231.24" r="0.52" fill="#fff" opacity="0.41" filter="url(#b05)"/>
<circle cx="161.41" cy="229.49" r="0.48" fill="#fff" opacity="0.31" filter="url(#b05)"/>
<circle cx="160.28" cy="230.31" r="0.47" fill="#fff" opacity="0.24" filter="url(#b05)"/>
<circle cx="228.22" cy="229.59" r="0.77" fill="#fff" opacity="0.36" filter="url(#b05)"/>
<circle cx="228.10" cy="229.26" r="0.58" fill="#fff" opacity="0.14" filter="url(#b05)"/>
<circle cx="223.43" cy="227.68" r="0.53" fill="#fff" opacity="0.90" filter="url(#b05)"/>
<circle cx="149.99" cy="248.83" r="0.35" fill="#fff" opacity="0.31" filter="url(#b05)"/>
<circle cx="145.09" cy="247.39" r="0.49" fill="#fff" opacity="0.25" filter="url(#b05)"/>
<circle cx="145.58" cy="248.62" r="0.71" fill="#fff" opacity="0.27" filter="url(#b05)"/>
<circle cx="147.87" cy="246.72" r="0.37" fill="#fff" opacity="0.44" filter="url(#b05)"/>
<circle cx="148.19" cy="250.52" r="0.71" fill="#fff" opacity="0.31" filter="url(#b05)"/>
<circle cx="148.20" cy="246.53" r="0.75" fill="#fff" opacity="0.61" filter="url(#b05)"/>
<circle cx="148.09" cy="248.17" r="0.69" fill="#fff" opacity="0.59" filter="url(#b05)"/>
<circle cx="147.29" cy="247.56" r="0.38" fill="#fff" opacity="0.29" filter="url(#b05)"/>
<circle cx="148.27" cy="245.52" r="0.71" fill="#fff" opacity="0.41" filter="url(#b05)"/>
<circle cx="146.21" cy="249.95" r="0.51" fill="#fff" opacity="0.33" filter="url(#b05)"/>
<circle cx="146.25" cy="251.65" r="0.38" fill="#fff" opacity="0.24" filter="url(#b05)"/>
<circle cx="164.47" cy="250.20" r="0.44" fill="#fff" opacity="0.56" filter="url(#b05)"/>
<circle cx="167.13" cy="250.92" r="0.66" fill="#fff" opacity="0.47" filter="url(#b05)"/>
<circle cx="167.08" cy="250.26" r="0.40" fill="#fff" opacity="0.31" filter="url(#b05)"/>
<circle cx="168.81" cy="249.59" r="0.68" fill="#fff" opacity="0.57" filter="url(#b05)"/>
<circle cx="166.75" cy="250.34" r="0.72" fill="#fff" opacity="0.27" filter="url(#b05)"/>
<circle cx="167.55" cy="252.16" r="0.63" fill="#fff" opacity="0.49" filter="url(#b05)"/>
<circle cx="167.38" cy="250.83" r="0.57" fill="#fff" opacity="0.57" filter="url(#b05)"/>
<circle cx="168.20" cy="252.23" r="0.66" fill="#fff" opacity="0.67" filter="url(#b05)"/>
<circle cx="167.72" cy="253.26" r="0.76" fill="#fff" opacity="0.61" filter="url(#b05)"/>
<circle cx="163.26" cy="249.50" r="0.77" fill="#fff" opacity="0.42" filter="url(#b05)"/>
<circle cx="182.82" cy="242.12" r="0.36" fill="#fff" opacity="0.45" filter="url(#b05)"/>
<circle cx="178.80" cy="245.27" r="0.64" fill="#fff" opacity="0.44" filter="url(#b05)"/>
<circle cx="181.05" cy="245.11" r="0.59" fill="#fff" opacity="0.50" filter="url(#b05)"/>
<circle cx="181.51" cy="241.93" r="0.70" fill="#fff" opacity="0.37" filter="url(#b05)"/>
<circle cx="179.63" cy="235.68" r="0.51" fill="#fff" opacity="0.48" filter="url(#b05)"/>
<circle cx="181.00" cy="243.97" r="0.72" fill="#fff" opacity="0.36" filter="url(#b05)"/>
<circle cx="179.61" cy="243.99" r="0.36" fill="#fff" opacity="0.22" filter="url(#b05)"/>
<circle cx="179.71" cy="243.60" r="0.44" fill="#fff" opacity="0.41" filter="url(#b05)"/>
<circle cx="181.34" cy="252.84" r="0.59" fill="#fff" opacity="0.54" filter="url(#b05)"/>
<circle cx="181.66" cy="252.41" r="0.54" fill="#fff" opacity="0.28" filter="url(#b05)"/>
<circle cx="181.22" cy="252.72" r="0.69" fill="#fff" opacity="0.48" filter="url(#b05)"/>
<circle cx="181.23" cy="252.74" r="0.57" fill="#fff" opacity="0.33" filter="url(#b05)"/>
<circle cx="181.14" cy="253.96" r="0.56" fill="#fff" opacity="0.39" filter="url(#b05)"/>
<circle cx="134.37" cy="246.43" r="0.74" fill="#fff" opacity="0.95" filter="url(#b05)"/>
<circle cx="209.96" cy="249.39" r="0.68" fill="#fff" opacity="0.49" filter="url(#b05)"/>
<circle cx="209.22" cy="247.90" r="0.52" fill="#fff" opacity="0.56" filter="url(#b05)"/>
<circle cx="208.17" cy="250.28" r="0.61" fill="#fff" opacity="0.41" filter="url(#b05)"/>
<circle cx="209.40" cy="249.25" r="0.45" fill="#fff" opacity="0.26" filter="url(#b05)"/>
<circle cx="209.32" cy="248.75" r="0.52" fill="#fff" opacity="0.21" filter="url(#b05)"/>
<circle cx="168.19" cy="262.34" r="0.56" fill="#fff" opacity="0.27" filter="url(#b05)"/>
<circle cx="165.70" cy="265.84" r="0.74" fill="#fff" opacity="0.33" filter="url(#b05)"/>
<circle cx="167.20" cy="262.26" r="0.46" fill="#fff" opacity="0.24" filter="url(#b05)"/>
<circle cx="167.43" cy="263.12" r="0.73" fill="#fff" opacity="0.19" filter="url(#b05)"/>
<circle cx="232.66" cy="257.80" r="0.49" fill="#fff" opacity="0.16" filter="url(#b05)"/>
<circle cx="229.48" cy="258.58" r="0.66" fill="#fff" opacity="0.21" filter="url(#b05)"/>
<circle cx="159.71" cy="280.17" r="0.44" fill="#fff" opacity="0.23" filter="url(#b05)"/>
<circle cx="159.99" cy="278.54" r="0.50" fill="#fff" opacity="0.39" filter="url(#b05)"/>
<circle cx="159.74" cy="277.92" r="0.44" fill="#fff" opacity="0.28" filter="url(#b05)"/>
<circle cx="161.09" cy="279.81" r="0.41" fill="#fff" opacity="0.30" filter="url(#b05)"/>
<circle cx="179.83" cy="272.90" r="0.36" fill="#fff" opacity="0.29" filter="url(#b05)"/>
<circle cx="178.57" cy="271.59" r="0.78" fill="#fff" opacity="0.25" filter="url(#b05)"/>
<circle cx="177.91" cy="274.96" r="0.64" fill="#fff" opacity="0.28" filter="url(#b05)"/>
<circle cx="177.43" cy="275.67" r="0.56" fill="#fff" opacity="0.28" filter="url(#b05)"/>
<circle cx="203.55" cy="283.01" r="0.71" fill="#fff" opacity="0.27" filter="url(#b05)"/>
<circle cx="206.99" cy="283.38" r="0.61" fill="#fff" opacity="0.27" filter="url(#b05)"/>
<circle cx="204.60" cy="282.43" r="0.57" fill="#fff" opacity="0.22" filter="url(#b05)"/>
<circle cx="206.08" cy="283.66" r="0.45" fill="#fff" opacity="0.31" filter="url(#b05)"/>
<circle cx="207.21" cy="283.69" r="0.42" fill="#fff" opacity="0.26" filter="url(#b05)"/>
<circle cx="205.37" cy="282.70" r="0.59" fill="#fff" opacity="0.23" filter="url(#b05)"/>
<circle cx="206.58" cy="283.94" r="0.69" fill="#fff" opacity="0.34" filter="url(#b05)"/>
<circle cx="187.10" cy="296.12" r="1.05" fill="#fff" opacity="0.98" filter="url(#b05)"/>
<circle cx="187.25" cy="296.64" r="0.46" fill="#fff" opacity="0.36" filter="url(#b05)"/>
<circle cx="185.87" cy="295.14" r="0.44" fill="#fff" opacity="0.37" filter="url(#b05)"/>
<circle cx="186.53" cy="295.79" r="0.35" fill="#fff" opacity="0.72" filter="url(#b05)"/>
<circle cx="186.64" cy="297.60" r="0.76" fill="#fff" opacity="0.50" filter="url(#b05)"/>
<circle cx="187.06" cy="296.18" r="0.75" fill="#fff" opacity="0.61" filter="url(#b05)"/>
<circle cx="187.15" cy="295.75" r="0.43" fill="#fff" opacity="0.66" filter="url(#b05)"/>
<circle cx="189.72" cy="294.68" r="0.67" fill="#fff" opacity="0.78" filter="url(#b05)"/>
<circle cx="185.53" cy="295.78" r="0.50" fill="#fff" opacity="0.41" filter="url(#b05)"/>
<circle cx="186.74" cy="295.44" r="0.37" fill="#fff" opacity="0.80" filter="url(#b05)"/>
<circle cx="186.86" cy="297.25" r="0.50" fill="#fff" opacity="0.36" filter="url(#b05)"/>
<circle cx="233.98" cy="285.55" r="0.40" fill="#fff" opacity="0.22" filter="url(#b05)"/>
<circle cx="233.59" cy="284.89" r="0.45" fill="#fff" opacity="0.26" filter="url(#b05)"/>
<circle cx="234.39" cy="296.96" r="0.63" fill="#fff" opacity="0.33" filter="url(#b05)"/>
<circle cx="233.94" cy="296.34" r="0.51" fill="#fff" opacity="0.29" filter="url(#b05)"/>
<circle cx="235.57" cy="297.49" r="0.43" fill="#fff" opacity="0.23" filter="url(#b05)"/>
<circle cx="221.13" cy="304.29" r="0.44" fill="#fff" opacity="0.25" filter="url(#b05)"/>
<circle cx="221.77" cy="304.47" r="0.65" fill="#fff" opacity="0.23" filter="url(#b05)"/>
<circle cx="221.46" cy="307.64" r="0.55" fill="#fff" opacity="0.32" filter="url(#b05)"/>
<circle cx="141.26" cy="305.95" r="0.62" fill="#fff" opacity="0.21" filter="url(#b05)"/>
<circle cx="141.56" cy="307.54" r="0.57" fill="#fff" opacity="0.33" filter="url(#b05)"/>
<circle cx="140.12" cy="310.46" r="0.66" fill="#fff" opacity="0.18" filter="url(#b05)"/>
<circle cx="204.99" cy="239.82" r="0.78" fill="#fff" opacity="0.26" filter="url(#b05)"/>
<circle cx="204.79" cy="242.10" r="0.52" fill="#fff" opacity="0.19" filter="url(#b05)"/>
<circle cx="145.10" cy="215.44" r="0.53" fill="#fff" opacity="0.15" filter="url(#b05)"/>
<circle cx="138.92" cy="216.28" r="0.63" fill="#fff" opacity="0.29" filter="url(#b05)"/>
<circle cx="136.64" cy="268.13" r="0.74" fill="#fff" opacity="0.26" filter="url(#b05)"/>
<circle cx="139.21" cy="268.17" r="0.67" fill="#fff" opacity="0.20" filter="url(#b05)"/>
<circle cx="207.68" cy="215.82" r="0.64" fill="#fff" opacity="0.29" filter="url(#b05)"/>
<circle cx="213.05" cy="216.95" r="0.52" fill="#fff" opacity="0.13" filter="url(#b05)"/>
<circle cx="196.81" cy="265.23" r="0.39" fill="#fff" opacity="0.09" filter="url(#b05)"/>
<circle cx="195.23" cy="263.33" r="0.40" fill="#fff" opacity="0.21" filter="url(#b05)"/>
<circle cx="147.43" cy="291.36" r="0.55" fill="#fff" opacity="0.14" filter="url(#b05)"/>
<circle cx="147.78" cy="288.49" r="0.40" fill="#fff" opacity="0.21" filter="url(#b05)"/>
<circle cx="195.31" cy="230.50" r="0.63" fill="#fff" opacity="0.70" filter="url(#b05)"/>
<circle cx="169.53" cy="273.85" r="0.63" fill="#fff" opacity="0.70" filter="url(#b05)"/>
<circle cx="223.43" cy="232.84" r="0.53" fill="#fff" opacity="0.70" filter="url(#b05)"/>
<circle cx="210.54" cy="248.07" r="0.53" fill="#fff" opacity="0.80" filter="url(#b05)"/>
</g>
<line x1="290.20" y1="310.00" x2="293.60" y2="310.00" stroke="#000" stroke-width="1.1" />
<text x="287.60" y="312.50" font-size="8" text-anchor="end" font-weight="normal" fill="#1a1a1a" >0</text>
<line x1="291.70" y1="298.67" x2="293.60" y2="298.67" stroke="#000" stroke-width="0.8" />
<line x1="290.20" y1="287.34" x2="293.60" y2="287.34" stroke="#000" stroke-width="1.1" />
<text x="287.60" y="289.84" font-size="8" text-anchor="end" font-weight="normal" fill="#1a1a1a" >20</text>
<line x1="291.70" y1="276.01" x2="293.60" y2="276.01" stroke="#000" stroke-width="0.8" />
<line x1="290.20" y1="264.68" x2="293.60" y2="264.68" stroke="#000" stroke-width="1.1" />
<text x="287.60" y="267.18" font-size="8" text-anchor="end" font-weight="normal" fill="#1a1a1a" >40</text>
<line x1="291.70" y1="253.35" x2="293.60" y2="253.35" stroke="#000" stroke-width="0.8" />
<line x1="290.20" y1="242.02" x2="293.60" y2="242.02" stroke="#000" stroke-width="1.1" />
<text x="287.60" y="244.52" font-size="8" text-anchor="end" font-weight="normal" fill="#1a1a1a" >60</text>
<line x1="291.70" y1="230.69" x2="293.60" y2="230.69" stroke="#000" stroke-width="0.8" />
<line x1="290.20" y1="219.36" x2="293.60" y2="219.36" stroke="#000" stroke-width="1.1" />
<text x="287.60" y="221.86" font-size="8" text-anchor="end" font-weight="normal" fill="#1a1a1a" >80</text>
<line x1="291.70" y1="208.03" x2="293.60" y2="208.03" stroke="#000" stroke-width="0.8" />
<line x1="290.20" y1="196.70" x2="293.60" y2="196.70" stroke="#000" stroke-width="1.1" />
<text x="287.60" y="199.20" font-size="8" text-anchor="end" font-weight="normal" fill="#1a1a1a" >100</text>
<text x="267.00" y="252.00" font-size="9.5" text-anchor="middle" class="c" textLength="30.7" lengthAdjust="spacingAndGlyphs" fill="#1a1a1a" transform="rotate(-90 267.00 252.00)">% of cells</text>
<rect x="296.10" y="196.70" width="10.80" height="113.30" fill="#E08C1A" />
<rect x="296.10" y="201.01" width="10.80" height="108.99" fill="#69AB43" />
<rect x="296.10" y="240.09" width="10.80" height="69.91" fill="#2C4C85" />
<rect x="296.10" y="288.59" width="10.80" height="21.41" fill="#5A2370" />
<rect x="311.60" y="196.70" width="10.80" height="113.30" fill="#B5002E" />
<rect x="311.60" y="207.80" width="10.80" height="102.20" fill="#E08C1A" />
<rect x="311.60" y="266.27" width="10.80" height="43.73" fill="#69AB43" />
<rect x="311.60" y="293.34" width="10.80" height="16.66" fill="#2C4C85" />
<rect x="327.00" y="196.70" width="10.80" height="113.30" fill="#E08C1A" />
<rect x="327.00" y="308.87" width="10.80" height="1.13" fill="#69AB43" />
<rect x="358.60" y="196.70" width="10.80" height="113.30" fill="#E08C1A" />
<rect x="358.60" y="198.97" width="10.80" height="111.03" fill="#69AB43" />
<rect x="358.60" y="240.09" width="10.80" height="69.91" fill="#2C4C85" />
<rect x="358.60" y="275.10" width="10.80" height="34.90" fill="#5A2370" />
<rect x="373.90" y="196.70" width="10.80" height="113.30" fill="#B5002E" />
<rect x="373.90" y="199.76" width="10.80" height="110.24" fill="#E08C1A" />
<rect x="373.90" y="289.04" width="10.80" height="20.96" fill="#69AB43" />
<rect x="373.90" y="304.33" width="10.80" height="5.67" fill="#2C4C85" />
<rect x="373.90" y="308.64" width="10.80" height="1.36" fill="#5A2370" />
<rect x="389.60" y="196.70" width="10.80" height="113.30" fill="#E08C1A" />
<rect x="389.60" y="308.87" width="10.80" height="1.13" fill="#69AB43" />
<rect x="420.60" y="196.70" width="10.80" height="113.30" fill="#E08C1A" />
<rect x="420.60" y="197.72" width="10.80" height="112.28" fill="#69AB43" />
<rect x="420.60" y="226.84" width="10.80" height="83.16" fill="#2C4C85" />
<rect x="420.60" y="280.20" width="10.80" height="29.80" fill="#5A2370" />
<rect x="436.20" y="196.70" width="10.80" height="113.30" fill="#69AB43" />
<rect x="436.20" y="202.25" width="10.80" height="107.75" fill="#2C4C85" />
<rect x="436.20" y="249.72" width="10.80" height="60.28" fill="#5A2370" />
<rect x="451.80" y="196.70" width="10.80" height="113.30" fill="#69AB43" />
<rect x="451.80" y="198.97" width="10.80" height="111.03" fill="#2C4C85" />
<rect x="451.80" y="219.81" width="10.80" height="90.19" fill="#5A2370" />
<line x1="293.60" y1="193.20" x2="293.60" y2="310.80" stroke="#000" stroke-width="1.4" />
<line x1="292.90" y1="310.10" x2="465.00" y2="310.10" stroke="#000" stroke-width="1.4" />
<text x="286.90" y="323.50" font-size="8" text-anchor="end" font-weight="normal" fill="#1a1a1a" >Plating:</text>
<text x="301.20" y="323.50" font-size="8" text-anchor="middle" font-weight="normal" fill="#1a1a1a" >1</text>
<text x="317.10" y="323.50" font-size="8" text-anchor="middle" font-weight="normal" fill="#1a1a1a" >2</text>
<text x="332.40" y="323.50" font-size="8" text-anchor="middle" font-weight="normal" fill="#1a1a1a" >3</text>
<text x="363.70" y="323.50" font-size="8" text-anchor="middle" font-weight="normal" fill="#1a1a1a" >1</text>
<text x="379.40" y="323.50" font-size="8" text-anchor="middle" font-weight="normal" fill="#1a1a1a" >2</text>
<text x="395.00" y="323.50" font-size="8" text-anchor="middle" font-weight="normal" fill="#1a1a1a" >3</text>
<text x="425.80" y="323.50" font-size="8" text-anchor="middle" font-weight="normal" fill="#1a1a1a" >1</text>
<text x="441.50" y="323.50" font-size="8" text-anchor="middle" font-weight="normal" fill="#1a1a1a" >2</text>
<text x="457.00" y="323.50" font-size="8" text-anchor="middle" font-weight="normal" fill="#1a1a1a" >3</text>
<text x="317.10" y="337.30" font-size="8" text-anchor="middle" font-weight="normal" fill="#1a1a1a" >No virus</text>
<text x="379.60" y="337.30" font-size="8" text-anchor="middle" font-weight="normal" fill="#1a1a1a" >MIG</text>
<text x="441.60" y="337.30" font-size="8" text-anchor="middle" font-weight="normal" fill="#1a1a1a" >MIG-Hhex</text>
<rect x="469.40" y="197.20" width="7.00" height="7.00" fill="#B5002E" />
<text x="480.20" y="203.60" font-size="8.2" text-anchor="start" font-weight="normal" fill="#1a1a1a" >E</text>
<rect x="469.40" y="210.70" width="7.00" height="7.00" fill="#E08C1A" />
<text x="480.20" y="217.10" font-size="8.2" text-anchor="start" font-weight="normal" fill="#1a1a1a" >Mast</text>
<rect x="469.40" y="224.20" width="7.00" height="7.00" fill="#69AB43" />
<text x="480.20" y="230.60" font-size="8.2" text-anchor="start" font-weight="normal" fill="#1a1a1a" >M</text>
<rect x="469.40" y="237.70" width="7.00" height="7.00" fill="#2C4C85" />
<text x="480.20" y="244.10" font-size="8.2" text-anchor="start" font-weight="normal" fill="#1a1a1a" >G</text>
<rect x="469.40" y="251.30" width="7.00" height="7.00" fill="#5A2370" />
<text x="480.20" y="257.70" font-size="8.2" text-anchor="start" font-weight="normal" fill="#1a1a1a" >Blast/pro</text>
<defs>
<clipPath id="ce"><rect x="18.5" y="363.5" width="114.80" height="114.80"/></clipPath>
<radialGradient id="cg" cx="0.42" cy="0.4" r="0.62"><stop offset="0" stop-color="#4448B2"/><stop offset="0.6" stop-color="#363AA4"/><stop offset="1" stop-color="#2C3092"/></radialGradient>
<radialGradient id="cgl" cx="0.5" cy="0.5" r="0.55"><stop offset="0" stop-color="#6355AE"/><stop offset="1" stop-color="#7C72BC"/></radialGradient>
<filter id="be" filterUnits="userSpaceOnUse" x="10" y="355" width="135" height="135"><feTurbulence type="fractalNoise" baseFrequency="0.085" numOctaves="2" seed="5" result="t"/><feDisplacementMap in="SourceGraphic" in2="t" scale="3.2" xChannelSelector="R" yChannelSelector="G" result="d"/><feTurbulence type="fractalNoise" baseFrequency="0.22" numOctaves="2" seed="8" result="t2"/><feColorMatrix in="t2" type="matrix" values="0 0 0 0 0.62  0 0 0 0 0.62  0 0 0 0 0.95  0.6 0 0 0 -0.27" result="m"/><feComposite in="m" in2="d" operator="in" result="mm"/><feMerge result="mg"><feMergeNode in="d"/><feMergeNode in="mm"/></feMerge><feGaussianBlur in="mg" stdDeviation="0.35"/></filter>
<filter id="be2" x="-50%" y="-50%" width="200%" height="200%"><feGaussianBlur stdDeviation="1.2"/></filter>
</defs>
<rect x="18.50" y="363.50" width="114.80" height="114.80" fill="#C7C7D0" />
<g clip-path="url(#ce)">
<circle cx="28.22" cy="432.12" r="6.73" fill="#9F98CC" opacity="0.75" filter="url(#be2)"/>
<circle cx="78.70" cy="432.12" r="2.88" fill="#A8A2D0" opacity="0.7" filter="url(#be2)"/>
<circle cx="93.61" cy="475.87" r="5.77" fill="#8C84C4" opacity="0.9" filter="url(#be2)"/>
<g filter="url(#be)">
<circle cx="66.68" cy="369.62" r="6.97" fill="#5A50B2"/>
<circle cx="66.68" cy="369.62" r="5.05" fill="#4038A4" opacity="0.95"/>
<circle cx="66.68" cy="396.54" r="2.88" fill="#7A72C0" opacity="0.8"/>
<ellipse cx="26.90" cy="371.30" rx="9.24" ry="9.24" fill="url(#cg)" stroke="#E4E4F2" stroke-width="0.75"/>
<ellipse cx="66.80" cy="388.80" rx="7.84" ry="9.71" fill="url(#cg)" stroke="#E4E4F2" stroke-width="0.75"/>
<ellipse cx="25.10" cy="402.20" rx="9.13" ry="8.77" fill="url(#cg)" stroke="#E4E4F2" stroke-width="0.75"/>
<ellipse cx="50.90" cy="397.90" rx="9.13" ry="8.54" fill="url(#cg)" stroke="#E4E4F2" stroke-width="0.75"/>
<ellipse cx="39.00" cy="407.00" rx="8.54" ry="8.54" fill="url(#cg)" stroke="#E4E4F2" stroke-width="0.75"/>
<ellipse cx="22.20" cy="417.90" rx="6.55" ry="7.25" fill="url(#cg)" stroke="#E4E4F2" stroke-width="0.75"/>
<ellipse cx="34.20" cy="417.90" rx="7.84" ry="7.84" fill="url(#cg)" stroke="#E4E4F2" stroke-width="0.75"/>
<ellipse cx="52.30" cy="414.90" rx="9.83" ry="9.59" fill="url(#cg)" stroke="#E4E4F2" stroke-width="0.75"/>
<ellipse cx="68.00" cy="416.90" rx="8.42" ry="8.89" fill="url(#cg)" stroke="#E4E4F2" stroke-width="0.75"/>
<ellipse cx="51.10" cy="430.90" rx="9.24" ry="7.96" fill="url(#cg)" stroke="#E4E4F2" stroke-width="0.75"/>
<ellipse cx="84.70" cy="410.30" rx="8.07" ry="7.84" fill="url(#cg)" stroke="#E4E4F2" stroke-width="0.75"/>
<ellipse cx="101.80" cy="412.90" rx="10.53" ry="9.24" fill="url(#cg)" stroke="#E4E4F2" stroke-width="0.75"/>
<ellipse cx="126.30" cy="411.20" rx="9.36" ry="9.95" fill="url(#cg)" stroke="#E4E4F2" stroke-width="0.75"/>
<ellipse cx="86.10" cy="424.20" rx="9.83" ry="7.37" fill="url(#cg)" stroke="#E4E4F2" stroke-width="0.75"/>
<ellipse cx="103.00" cy="429.70" rx="9.01" ry="8.54" fill="url(#cg)" stroke="#E4E4F2" stroke-width="0.75"/>
<ellipse cx="118.20" cy="429.70" rx="8.31" ry="7.84" fill="url(#cg)" stroke="#E4E4F2" stroke-width="0.75"/>
<ellipse cx="129.30" cy="433.90" rx="5.26" ry="7.02" fill="url(#cg)" stroke="#E4E4F2" stroke-width="0.75"/>
<ellipse cx="67.50" cy="440.40" rx="8.54" ry="9.24" fill="url(#cg)" stroke="#E4E4F2" stroke-width="0.75"/>
<ellipse cx="91.20" cy="439.10" rx="9.95" ry="8.54" fill="url(#cg)" stroke="#E4E4F2" stroke-width="0.75"/>
<ellipse cx="36.60" cy="444.20" rx="9.71" ry="8.54" fill="url(#cg)" stroke="#E4E4F2" stroke-width="0.75"/>
<ellipse cx="52.90" cy="447.00" rx="9.59" ry="9.83" fill="url(#cg)" stroke="#E4E4F2" stroke-width="0.75"/>
<ellipse cx="85.10" cy="452.60" rx="7.96" ry="7.84" fill="url(#cg)" stroke="#E4E4F2" stroke-width="0.75"/>
<ellipse cx="110.00" cy="447.80" rx="7.60" ry="7.60" fill="url(#cg)" stroke="#E4E4F2" stroke-width="0.75"/>
<ellipse cx="124.70" cy="451.80" rx="9.48" ry="9.48" fill="url(#cg)" stroke="#E4E4F2" stroke-width="0.75"/>
<ellipse cx="39.60" cy="458.70" rx="9.24" ry="8.54" fill="url(#cg)" stroke="#E4E4F2" stroke-width="0.75"/>
<ellipse cx="52.30" cy="463.40" rx="7.49" ry="7.72" fill="url(#cg)" stroke="#E4E4F2" stroke-width="0.75"/>
<ellipse cx="62.70" cy="468.80" rx="8.54" ry="8.54" fill="url(#cg)" stroke="#E4E4F2" stroke-width="0.75"/>
<ellipse cx="68.30" cy="475.60" rx="6.79" ry="4.45" fill="url(#cg)" stroke="#E4E4F2" stroke-width="0.75"/>
<ellipse cx="128.20" cy="465.30" rx="6.43" ry="6.43" fill="url(#cg)" stroke="#E4E4F2" stroke-width="0.75"/>
<circle cx="35.43" cy="387.16" r="1.3" fill="#26265C"/>
<circle cx="131.59" cy="388.85" r="1.1" fill="#55557a"/>
</g>
</g>
<rect x="18.5" y="363.5" width="114.80" height="114.80" fill="none" stroke="#3a3a3a" stroke-width="0.9"/>
<rect x="176.5" y="363.8" width="115.40" height="114.80" fill="#fff" stroke="#111" stroke-width="1.15"/>
<text x="176.50" y="491.60" font-size="8.2" text-anchor="middle" fill="#1a1a1a">10<tspan font-size="6.0" dy="-3.5">0</tspan></text>
<text x="171.50" y="481.60" font-size="8.2" text-anchor="end" fill="#1a1a1a">10<tspan font-size="6.0" dy="-3.5">0</tspan></text>
<line x1="185.18" y1="478.60" x2="185.18" y2="480.50" stroke="#111" stroke-width="0.8" />
<line x1="176.50" y1="469.96" x2="174.80" y2="469.96" stroke="#111" stroke-width="0.8" />
<line x1="190.26" y1="478.60" x2="190.26" y2="480.50" stroke="#111" stroke-width="0.8" />
<line x1="176.50" y1="464.91" x2="174.80" y2="464.91" stroke="#111" stroke-width="0.8" />
<line x1="193.87" y1="478.60" x2="193.87" y2="480.50" stroke="#111" stroke-width="0.8" />
<line x1="176.50" y1="461.32" x2="174.80" y2="461.32" stroke="#111" stroke-width="0.8" />
<line x1="196.67" y1="478.60" x2="196.67" y2="480.50" stroke="#111" stroke-width="0.8" />
<line x1="176.50" y1="458.54" x2="174.80" y2="458.54" stroke="#111" stroke-width="0.8" />
<line x1="198.95" y1="478.60" x2="198.95" y2="480.50" stroke="#111" stroke-width="0.8" />
<line x1="176.50" y1="456.27" x2="174.80" y2="456.27" stroke="#111" stroke-width="0.8" />
<line x1="200.88" y1="478.60" x2="200.88" y2="480.50" stroke="#111" stroke-width="0.8" />
<line x1="176.50" y1="454.35" x2="174.80" y2="454.35" stroke="#111" stroke-width="0.8" />
<line x1="202.55" y1="478.60" x2="202.55" y2="480.50" stroke="#111" stroke-width="0.8" />
<line x1="176.50" y1="452.68" x2="174.80" y2="452.68" stroke="#111" stroke-width="0.8" />
<line x1="204.03" y1="478.60" x2="204.03" y2="480.50" stroke="#111" stroke-width="0.8" />
<line x1="176.50" y1="451.21" x2="174.80" y2="451.21" stroke="#111" stroke-width="0.8" />
<line x1="176.50" y1="478.60" x2="176.50" y2="481.20" stroke="#111" stroke-width="1.0" />
<line x1="176.50" y1="478.60" x2="174.10" y2="478.60" stroke="#111" stroke-width="1.0" />
<text x="205.35" y="491.60" font-size="8.2" text-anchor="middle" fill="#1a1a1a">10<tspan font-size="6.0" dy="-3.5">1</tspan></text>
<text x="171.50" y="452.90" font-size="8.2" text-anchor="end" fill="#1a1a1a">10<tspan font-size="6.0" dy="-3.5">1</tspan></text>
<line x1="214.03" y1="478.60" x2="214.03" y2="480.50" stroke="#111" stroke-width="0.8" />
<line x1="176.50" y1="441.26" x2="174.80" y2="441.26" stroke="#111" stroke-width="0.8" />
<line x1="219.11" y1="478.60" x2="219.11" y2="480.50" stroke="#111" stroke-width="0.8" />
<line x1="176.50" y1="436.21" x2="174.80" y2="436.21" stroke="#111" stroke-width="0.8" />
<line x1="222.72" y1="478.60" x2="222.72" y2="480.50" stroke="#111" stroke-width="0.8" />
<line x1="176.50" y1="432.62" x2="174.80" y2="432.62" stroke="#111" stroke-width="0.8" />
<line x1="225.52" y1="478.60" x2="225.52" y2="480.50" stroke="#111" stroke-width="0.8" />
<line x1="176.50" y1="429.84" x2="174.80" y2="429.84" stroke="#111" stroke-width="0.8" />
<line x1="227.80" y1="478.60" x2="227.80" y2="480.50" stroke="#111" stroke-width="0.8" />
<line x1="176.50" y1="427.57" x2="174.80" y2="427.57" stroke="#111" stroke-width="0.8" />
<line x1="229.73" y1="478.60" x2="229.73" y2="480.50" stroke="#111" stroke-width="0.8" />
<line x1="176.50" y1="425.65" x2="174.80" y2="425.65" stroke="#111" stroke-width="0.8" />
<line x1="231.40" y1="478.60" x2="231.40" y2="480.50" stroke="#111" stroke-width="0.8" />
<line x1="176.50" y1="423.98" x2="174.80" y2="423.98" stroke="#111" stroke-width="0.8" />
<line x1="232.88" y1="478.60" x2="232.88" y2="480.50" stroke="#111" stroke-width="0.8" />
<line x1="176.50" y1="422.51" x2="174.80" y2="422.51" stroke="#111" stroke-width="0.8" />
<line x1="205.35" y1="478.60" x2="205.35" y2="481.20" stroke="#111" stroke-width="1.0" />
<line x1="176.50" y1="449.90" x2="174.10" y2="449.90" stroke="#111" stroke-width="1.0" />
<text x="234.20" y="491.60" font-size="8.2" text-anchor="middle" fill="#1a1a1a">10<tspan font-size="6.0" dy="-3.5">2</tspan></text>
<text x="171.50" y="424.20" font-size="8.2" text-anchor="end" fill="#1a1a1a">10<tspan font-size="6.0" dy="-3.5">2</tspan></text>
<line x1="242.88" y1="478.60" x2="242.88" y2="480.50" stroke="#111" stroke-width="0.8" />
<line x1="176.50" y1="412.56" x2="174.80" y2="412.56" stroke="#111" stroke-width="0.8" />
<line x1="247.96" y1="478.60" x2="247.96" y2="480.50" stroke="#111" stroke-width="0.8" />
<line x1="176.50" y1="407.51" x2="174.80" y2="407.51" stroke="#111" stroke-width="0.8" />
<line x1="251.57" y1="478.60" x2="251.57" y2="480.50" stroke="#111" stroke-width="0.8" />
<line x1="176.50" y1="403.92" x2="174.80" y2="403.92" stroke="#111" stroke-width="0.8" />
<line x1="254.37" y1="478.60" x2="254.37" y2="480.50" stroke="#111" stroke-width="0.8" />
<line x1="176.50" y1="401.14" x2="174.80" y2="401.14" stroke="#111" stroke-width="0.8" />
<line x1="256.65" y1="478.60" x2="256.65" y2="480.50" stroke="#111" stroke-width="0.8" />
<line x1="176.50" y1="398.87" x2="174.80" y2="398.87" stroke="#111" stroke-width="0.8" />
<line x1="258.58" y1="478.60" x2="258.58" y2="480.50" stroke="#111" stroke-width="0.8" />
<line x1="176.50" y1="396.95" x2="174.80" y2="396.95" stroke="#111" stroke-width="0.8" />
<line x1="260.25" y1="478.60" x2="260.25" y2="480.50" stroke="#111" stroke-width="0.8" />
<line x1="176.50" y1="395.28" x2="174.80" y2="395.28" stroke="#111" stroke-width="0.8" />
<line x1="261.73" y1="478.60" x2="261.73" y2="480.50" stroke="#111" stroke-width="0.8" />
<line x1="176.50" y1="393.81" x2="174.80" y2="393.81" stroke="#111" stroke-width="0.8" />
<line x1="234.20" y1="478.60" x2="234.20" y2="481.20" stroke="#111" stroke-width="1.0" />
<line x1="176.50" y1="421.20" x2="174.10" y2="421.20" stroke="#111" stroke-width="1.0" />
<text x="263.05" y="491.60" font-size="8.2" text-anchor="middle" fill="#1a1a1a">10<tspan font-size="6.0" dy="-3.5">3</tspan></text>
<text x="171.50" y="395.50" font-size="8.2" text-anchor="end" fill="#1a1a1a">10<tspan font-size="6.0" dy="-3.5">3</tspan></text>
<line x1="271.73" y1="478.60" x2="271.73" y2="480.50" stroke="#111" stroke-width="0.8" />
<line x1="176.50" y1="383.86" x2="174.80" y2="383.86" stroke="#111" stroke-width="0.8" />
<line x1="276.81" y1="478.60" x2="276.81" y2="480.50" stroke="#111" stroke-width="0.8" />
<line x1="176.50" y1="378.81" x2="174.80" y2="378.81" stroke="#111" stroke-width="0.8" />
<line x1="280.42" y1="478.60" x2="280.42" y2="480.50" stroke="#111" stroke-width="0.8" />
<line x1="176.50" y1="375.22" x2="174.80" y2="375.22" stroke="#111" stroke-width="0.8" />
<line x1="283.22" y1="478.60" x2="283.22" y2="480.50" stroke="#111" stroke-width="0.8" />
<line x1="176.50" y1="372.44" x2="174.80" y2="372.44" stroke="#111" stroke-width="0.8" />
<line x1="285.50" y1="478.60" x2="285.50" y2="480.50" stroke="#111" stroke-width="0.8" />
<line x1="176.50" y1="370.17" x2="174.80" y2="370.17" stroke="#111" stroke-width="0.8" />
<line x1="287.43" y1="478.60" x2="287.43" y2="480.50" stroke="#111" stroke-width="0.8" />
<line x1="176.50" y1="368.25" x2="174.80" y2="368.25" stroke="#111" stroke-width="0.8" />
<line x1="289.10" y1="478.60" x2="289.10" y2="480.50" stroke="#111" stroke-width="0.8" />
<line x1="176.50" y1="366.58" x2="174.80" y2="366.58" stroke="#111" stroke-width="0.8" />
<line x1="290.58" y1="478.60" x2="290.58" y2="480.50" stroke="#111" stroke-width="0.8" />
<line x1="176.50" y1="365.11" x2="174.80" y2="365.11" stroke="#111" stroke-width="0.8" />
<line x1="263.05" y1="478.60" x2="263.05" y2="481.20" stroke="#111" stroke-width="1.0" />
<line x1="176.50" y1="392.50" x2="174.10" y2="392.50" stroke="#111" stroke-width="1.0" />
<text x="291.90" y="491.60" font-size="8.2" text-anchor="middle" fill="#1a1a1a">10<tspan font-size="6.0" dy="-3.5">4</tspan></text>
<text x="171.50" y="366.80" font-size="8.2" text-anchor="end" fill="#1a1a1a">10<tspan font-size="6.0" dy="-3.5">4</tspan></text>
<line x1="291.90" y1="478.60" x2="291.90" y2="481.20" stroke="#111" stroke-width="1.0" />
<line x1="176.50" y1="363.80" x2="174.10" y2="363.80" stroke="#111" stroke-width="1.0" />
<text x="158.00" y="462.80" font-size="9.3" text-anchor="middle" textLength="16.0" lengthAdjust="spacingAndGlyphs" class="f" fill="#1a1a1a" transform="rotate(-90 158.00 462.80)">Mac1</text>
<line x1="154.60" y1="450.30" x2="154.60" y2="373.50" stroke="#000" stroke-width="1.2" />
<polygon points="154.60,367.2 151.00,375.8 154.60,373.6 158.20,375.8" fill="#000"/>
<text x="190.90" y="502.7" font-size="9.0" text-anchor="middle" textLength="12.4" lengthAdjust="spacingAndGlyphs" class="f" fill="#1a1a1a">GFP</text>
<line x1="200.40" y1="499.50" x2="282.50" y2="499.50" stroke="#000" stroke-width="1.2" />
<polygon points="288.50,499.5 280.30,496.3 282.70,499.5 280.30,502.7" fill="#000"/>
<rect x="341.7" y="363.8" width="114.80" height="114.80" fill="#fff" stroke="#111" stroke-width="1.15"/>
<text x="341.70" y="491.60" font-size="8.2" text-anchor="middle" fill="#1a1a1a">10<tspan font-size="6.0" dy="-3.5">0</tspan></text>
<text x="336.70" y="481.60" font-size="8.2" text-anchor="end" fill="#1a1a1a">10<tspan font-size="6.0" dy="-3.5">0</tspan></text>
<line x1="350.34" y1="478.60" x2="350.34" y2="480.50" stroke="#111" stroke-width="0.8" />
<line x1="341.70" y1="469.96" x2="340.00" y2="469.96" stroke="#111" stroke-width="0.8" />
<line x1="355.39" y1="478.60" x2="355.39" y2="480.50" stroke="#111" stroke-width="0.8" />
<line x1="341.70" y1="464.91" x2="340.00" y2="464.91" stroke="#111" stroke-width="0.8" />
<line x1="358.98" y1="478.60" x2="358.98" y2="480.50" stroke="#111" stroke-width="0.8" />
<line x1="341.70" y1="461.32" x2="340.00" y2="461.32" stroke="#111" stroke-width="0.8" />
<line x1="361.76" y1="478.60" x2="361.76" y2="480.50" stroke="#111" stroke-width="0.8" />
<line x1="341.70" y1="458.54" x2="340.00" y2="458.54" stroke="#111" stroke-width="0.8" />
<line x1="364.03" y1="478.60" x2="364.03" y2="480.50" stroke="#111" stroke-width="0.8" />
<line x1="341.70" y1="456.27" x2="340.00" y2="456.27" stroke="#111" stroke-width="0.8" />
<line x1="365.95" y1="478.60" x2="365.95" y2="480.50" stroke="#111" stroke-width="0.8" />
<line x1="341.70" y1="454.35" x2="340.00" y2="454.35" stroke="#111" stroke-width="0.8" />
<line x1="367.62" y1="478.60" x2="367.62" y2="480.50" stroke="#111" stroke-width="0.8" />
<line x1="341.70" y1="452.68" x2="340.00" y2="452.68" stroke="#111" stroke-width="0.8" />
<line x1="369.09" y1="478.60" x2="369.09" y2="480.50" stroke="#111" stroke-width="0.8" />
<line x1="341.70" y1="451.21" x2="340.00" y2="451.21" stroke="#111" stroke-width="0.8" />
<line x1="341.70" y1="478.60" x2="341.70" y2="481.20" stroke="#111" stroke-width="1.0" />
<line x1="341.70" y1="478.60" x2="339.30" y2="478.60" stroke="#111" stroke-width="1.0" />
<text x="370.40" y="491.60" font-size="8.2" text-anchor="middle" fill="#1a1a1a">10<tspan font-size="6.0" dy="-3.5">1</tspan></text>
<text x="336.70" y="452.90" font-size="8.2" text-anchor="end" fill="#1a1a1a">10<tspan font-size="6.0" dy="-3.5">1</tspan></text>
<line x1="379.04" y1="478.60" x2="379.04" y2="480.50" stroke="#111" stroke-width="0.8" />
<line x1="341.70" y1="441.26" x2="340.00" y2="441.26" stroke="#111" stroke-width="0.8" />
<line x1="384.09" y1="478.60" x2="384.09" y2="480.50" stroke="#111" stroke-width="0.8" />
<line x1="341.70" y1="436.21" x2="340.00" y2="436.21" stroke="#111" stroke-width="0.8" />
<line x1="387.68" y1="478.60" x2="387.68" y2="480.50" stroke="#111" stroke-width="0.8" />
<line x1="341.70" y1="432.62" x2="340.00" y2="432.62" stroke="#111" stroke-width="0.8" />
<line x1="390.46" y1="478.60" x2="390.46" y2="480.50" stroke="#111" stroke-width="0.8" />
<line x1="341.70" y1="429.84" x2="340.00" y2="429.84" stroke="#111" stroke-width="0.8" />
<line x1="392.73" y1="478.60" x2="392.73" y2="480.50" stroke="#111" stroke-width="0.8" />
<line x1="341.70" y1="427.57" x2="340.00" y2="427.57" stroke="#111" stroke-width="0.8" />
<line x1="394.65" y1="478.60" x2="394.65" y2="480.50" stroke="#111" stroke-width="0.8" />
<line x1="341.70" y1="425.65" x2="340.00" y2="425.65" stroke="#111" stroke-width="0.8" />
<line x1="396.32" y1="478.60" x2="396.32" y2="480.50" stroke="#111" stroke-width="0.8" />
<line x1="341.70" y1="423.98" x2="340.00" y2="423.98" stroke="#111" stroke-width="0.8" />
<line x1="397.79" y1="478.60" x2="397.79" y2="480.50" stroke="#111" stroke-width="0.8" />
<line x1="341.70" y1="422.51" x2="340.00" y2="422.51" stroke="#111" stroke-width="0.8" />
<line x1="370.40" y1="478.60" x2="370.40" y2="481.20" stroke="#111" stroke-width="1.0" />
<line x1="341.70" y1="449.90" x2="339.30" y2="449.90" stroke="#111" stroke-width="1.0" />
<text x="399.10" y="491.60" font-size="8.2" text-anchor="middle" fill="#1a1a1a">10<tspan font-size="6.0" dy="-3.5">2</tspan></text>
<text x="336.70" y="424.20" font-size="8.2" text-anchor="end" fill="#1a1a1a">10<tspan font-size="6.0" dy="-3.5">2</tspan></text>
<line x1="407.74" y1="478.60" x2="407.74" y2="480.50" stroke="#111" stroke-width="0.8" />
<line x1="341.70" y1="412.56" x2="340.00" y2="412.56" stroke="#111" stroke-width="0.8" />
<line x1="412.79" y1="478.60" x2="412.79" y2="480.50" stroke="#111" stroke-width="0.8" />
<line x1="341.70" y1="407.51" x2="340.00" y2="407.51" stroke="#111" stroke-width="0.8" />
<line x1="416.38" y1="478.60" x2="416.38" y2="480.50" stroke="#111" stroke-width="0.8" />
<line x1="341.70" y1="403.92" x2="340.00" y2="403.92" stroke="#111" stroke-width="0.8" />
<line x1="419.16" y1="478.60" x2="419.16" y2="480.50" stroke="#111" stroke-width="0.8" />
<line x1="341.70" y1="401.14" x2="340.00" y2="401.14" stroke="#111" stroke-width="0.8" />
<line x1="421.43" y1="478.60" x2="421.43" y2="480.50" stroke="#111" stroke-width="0.8" />
<line x1="341.70" y1="398.87" x2="340.00" y2="398.87" stroke="#111" stroke-width="0.8" />
<line x1="423.35" y1="478.60" x2="423.35" y2="480.50" stroke="#111" stroke-width="0.8" />
<line x1="341.70" y1="396.95" x2="340.00" y2="396.95" stroke="#111" stroke-width="0.8" />
<line x1="425.02" y1="478.60" x2="425.02" y2="480.50" stroke="#111" stroke-width="0.8" />
<line x1="341.70" y1="395.28" x2="340.00" y2="395.28" stroke="#111" stroke-width="0.8" />
<line x1="426.49" y1="478.60" x2="426.49" y2="480.50" stroke="#111" stroke-width="0.8" />
<line x1="341.70" y1="393.81" x2="340.00" y2="393.81" stroke="#111" stroke-width="0.8" />
<line x1="399.10" y1="478.60" x2="399.10" y2="481.20" stroke="#111" stroke-width="1.0" />
<line x1="341.70" y1="421.20" x2="339.30" y2="421.20" stroke="#111" stroke-width="1.0" />
<text x="427.80" y="491.60" font-size="8.2" text-anchor="middle" fill="#1a1a1a">10<tspan font-size="6.0" dy="-3.5">3</tspan></text>
<text x="336.70" y="395.50" font-size="8.2" text-anchor="end" fill="#1a1a1a">10<tspan font-size="6.0" dy="-3.5">3</tspan></text>
<line x1="436.44" y1="478.60" x2="436.44" y2="480.50" stroke="#111" stroke-width="0.8" />
<line x1="341.70" y1="383.86" x2="340.00" y2="383.86" stroke="#111" stroke-width="0.8" />
<line x1="441.49" y1="478.60" x2="441.49" y2="480.50" stroke="#111" stroke-width="0.8" />
<line x1="341.70" y1="378.81" x2="340.00" y2="378.81" stroke="#111" stroke-width="0.8" />
<line x1="445.08" y1="478.60" x2="445.08" y2="480.50" stroke="#111" stroke-width="0.8" />
<line x1="341.70" y1="375.22" x2="340.00" y2="375.22" stroke="#111" stroke-width="0.8" />
<line x1="447.86" y1="478.60" x2="447.86" y2="480.50" stroke="#111" stroke-width="0.8" />
<line x1="341.70" y1="372.44" x2="340.00" y2="372.44" stroke="#111" stroke-width="0.8" />
<line x1="450.13" y1="478.60" x2="450.13" y2="480.50" stroke="#111" stroke-width="0.8" />
<line x1="341.70" y1="370.17" x2="340.00" y2="370.17" stroke="#111" stroke-width="0.8" />
<line x1="452.05" y1="478.60" x2="452.05" y2="480.50" stroke="#111" stroke-width="0.8" />
<line x1="341.70" y1="368.25" x2="340.00" y2="368.25" stroke="#111" stroke-width="0.8" />
<line x1="453.72" y1="478.60" x2="453.72" y2="480.50" stroke="#111" stroke-width="0.8" />
<line x1="341.70" y1="366.58" x2="340.00" y2="366.58" stroke="#111" stroke-width="0.8" />
<line x1="455.19" y1="478.60" x2="455.19" y2="480.50" stroke="#111" stroke-width="0.8" />
<line x1="341.70" y1="365.11" x2="340.00" y2="365.11" stroke="#111" stroke-width="0.8" />
<line x1="427.80" y1="478.60" x2="427.80" y2="481.20" stroke="#111" stroke-width="1.0" />
<line x1="341.70" y1="392.50" x2="339.30" y2="392.50" stroke="#111" stroke-width="1.0" />
<text x="456.50" y="491.60" font-size="8.2" text-anchor="middle" fill="#1a1a1a">10<tspan font-size="6.0" dy="-3.5">4</tspan></text>
<text x="336.70" y="366.80" font-size="8.2" text-anchor="end" fill="#1a1a1a">10<tspan font-size="6.0" dy="-3.5">4</tspan></text>
<line x1="456.50" y1="478.60" x2="456.50" y2="481.20" stroke="#111" stroke-width="1.0" />
<line x1="341.70" y1="363.80" x2="339.30" y2="363.80" stroke="#111" stroke-width="1.0" />
<text x="322.50" y="467.90" font-size="9.3" text-anchor="middle" textLength="9.8" lengthAdjust="spacingAndGlyphs" class="f" fill="#1a1a1a" transform="rotate(-90 322.50 467.90)">Kit</text>
<line x1="319.40" y1="460.80" x2="319.40" y2="373.50" stroke="#000" stroke-width="1.2" />
<polygon points="319.40,367.2 315.80,375.8 319.40,373.6 323.00,375.8" fill="#000"/>
<text x="350.00" y="502.7" font-size="9.0" text-anchor="middle" textLength="10.2" lengthAdjust="spacingAndGlyphs" class="f" fill="#1a1a1a">Gr1</text>
<line x1="359.00" y1="499.50" x2="447.60" y2="499.50" stroke="#000" stroke-width="1.2" />
<polygon points="453.60,499.5 445.40,496.3 447.80,499.5 445.40,502.7" fill="#000"/>
<g fill="#444">
<circle cx="218.9" cy="415.7" r="0.55" opacity="0.71"/>
<circle cx="235.4" cy="416.2" r="0.55" opacity="0.55"/>
<circle cx="235.3" cy="414.4" r="0.55" opacity="0.37"/>
<circle cx="217.8" cy="410.3" r="0.55" opacity="0.40"/>
<circle cx="202.0" cy="420.8" r="0.55" opacity="0.42"/>
<circle cx="224.8" cy="428.8" r="0.55" opacity="0.87"/>
<circle cx="211.3" cy="401.0" r="0.55" opacity="0.89"/>
<circle cx="220.4" cy="416.1" r="0.55" opacity="0.41"/>
<circle cx="214.1" cy="433.8" r="0.55" opacity="0.45"/>
<circle cx="207.1" cy="397.5" r="0.55" opacity="0.55"/>
<circle cx="217.9" cy="406.4" r="0.55" opacity="0.38"/>
<circle cx="227.0" cy="429.8" r="0.55" opacity="0.59"/>
<circle cx="215.8" cy="426.3" r="0.55" opacity="0.60"/>
<circle cx="215.4" cy="433.4" r="0.55" opacity="0.73"/>
<circle cx="222.6" cy="427.6" r="0.55" opacity="0.64"/>
<circle cx="235.7" cy="390.9" r="0.55" opacity="0.51"/>
<circle cx="228.0" cy="407.1" r="0.55" opacity="0.58"/>
<circle cx="222.3" cy="399.4" r="0.55" opacity="0.62"/>
<circle cx="239.3" cy="413.4" r="0.55" opacity="0.77"/>
<circle cx="200.0" cy="394.4" r="0.55" opacity="0.52"/>
<circle cx="216.6" cy="389.0" r="0.55" opacity="0.67"/>
<circle cx="199.9" cy="415.8" r="0.55" opacity="0.87"/>
<circle cx="204.5" cy="411.6" r="0.55" opacity="0.38"/>
<circle cx="216.8" cy="387.3" r="0.55" opacity="0.90"/>
<circle cx="226.3" cy="397.0" r="0.55" opacity="0.56"/>
<circle cx="220.7" cy="405.2" r="0.55" opacity="0.60"/>
<circle cx="224.9" cy="414.5" r="0.55" opacity="0.38"/>
<circle cx="222.7" cy="400.2" r="0.55" opacity="0.49"/>
<circle cx="203.2" cy="427.2" r="0.55" opacity="0.39"/>
<circle cx="207.6" cy="413.9" r="0.55" opacity="0.84"/>
<circle cx="232.1" cy="380.8" r="0.55" opacity="0.50"/>
<circle cx="212.3" cy="415.2" r="0.55" opacity="0.84"/>
<circle cx="228.6" cy="405.7" r="0.55" opacity="0.45"/>
<circle cx="223.0" cy="418.9" r="0.55" opacity="0.62"/>
<circle cx="214.1" cy="401.8" r="0.55" opacity="0.35"/>
<circle cx="211.9" cy="415.0" r="0.55" opacity="0.66"/>
<circle cx="239.6" cy="401.3" r="0.55" opacity="0.63"/>
<circle cx="208.7" cy="392.8" r="0.55" opacity="0.38"/>
<circle cx="238.9" cy="392.6" r="0.55" opacity="0.83"/>
<circle cx="225.5" cy="393.7" r="0.55" opacity="0.57"/>
<circle cx="235.5" cy="420.9" r="0.55" opacity="0.38"/>
<circle cx="229.5" cy="412.2" r="0.55" opacity="0.44"/>
<circle cx="219.9" cy="412.2" r="0.55" opacity="0.35"/>
<circle cx="225.2" cy="413.6" r="0.55" opacity="0.55"/>
<circle cx="216.9" cy="402.4" r="0.55" opacity="0.49"/>
<circle cx="215.4" cy="419.7" r="0.55" opacity="0.42"/>
<circle cx="208.5" cy="411.7" r="0.55" opacity="0.40"/>
<circle cx="230.8" cy="416.2" r="0.55" opacity="0.50"/>
<circle cx="225.4" cy="400.2" r="0.55" opacity="0.36"/>
<circle cx="236.0" cy="402.4" r="0.55" opacity="0.43"/>
<circle cx="219.3" cy="407.1" r="0.55" opacity="0.64"/>
<circle cx="218.9" cy="397.0" r="0.55" opacity="0.55"/>
<circle cx="232.3" cy="430.4" r="0.55" opacity="0.64"/>
<circle cx="223.9" cy="394.8" r="0.55" opacity="0.47"/>
<circle cx="235.1" cy="386.3" r="0.55" opacity="0.80"/>
<circle cx="221.5" cy="397.3" r="0.55" opacity="0.63"/>
<circle cx="220.2" cy="410.9" r="0.55" opacity="0.37"/>
<circle cx="220.3" cy="419.4" r="0.55" opacity="0.73"/>
<circle cx="234.6" cy="403.6" r="0.55" opacity="0.87"/>
<circle cx="216.4" cy="416.0" r="0.55" opacity="0.47"/>
<circle cx="224.7" cy="417.6" r="0.55" opacity="0.69"/>
<circle cx="240.6" cy="391.2" r="0.55" opacity="0.61"/>
<circle cx="209.7" cy="385.9" r="0.55" opacity="0.40"/>
<circle cx="208.0" cy="380.2" r="0.55" opacity="0.78"/>
<circle cx="259.5" cy="380.6" r="0.55" opacity="0.40"/>
<circle cx="261.1" cy="387.1" r="0.55" opacity="0.74"/>
<circle cx="266.9" cy="403.7" r="0.55" opacity="0.52"/>
<circle cx="270.9" cy="395.4" r="0.55" opacity="0.39"/>
<circle cx="262.5" cy="417.8" r="0.55" opacity="0.80"/>
<circle cx="261.0" cy="395.3" r="0.55" opacity="0.75"/>
<circle cx="270.4" cy="403.7" r="0.55" opacity="0.49"/>
<circle cx="255.7" cy="404.2" r="0.55" opacity="0.31"/>
<circle cx="270.2" cy="401.7" r="0.55" opacity="0.59"/>
<circle cx="266.8" cy="397.6" r="0.55" opacity="0.78"/>
<circle cx="261.9" cy="393.3" r="0.55" opacity="0.44"/>
<circle cx="258.0" cy="425.2" r="0.55" opacity="0.62"/>
<circle cx="259.0" cy="433.0" r="0.55" opacity="0.37"/>
<circle cx="265.4" cy="396.0" r="0.55" opacity="0.55"/>
<circle cx="245.4" cy="382.0" r="0.55" opacity="0.53"/>
<circle cx="267.2" cy="394.0" r="0.55" opacity="0.59"/>
<circle cx="258.1" cy="407.3" r="0.55" opacity="0.54"/>
<circle cx="259.8" cy="409.9" r="0.55" opacity="0.74"/>
<circle cx="263.5" cy="432.0" r="0.55" opacity="0.70"/>
<circle cx="253.3" cy="400.6" r="0.55" opacity="0.59"/>
<circle cx="247.2" cy="393.7" r="0.55" opacity="0.36"/>
<circle cx="254.2" cy="401.3" r="0.55" opacity="0.45"/>
<circle cx="260.7" cy="379.7" r="0.55" opacity="0.61"/>
<circle cx="249.8" cy="419.5" r="0.55" opacity="0.58"/>
<circle cx="248.0" cy="405.2" r="0.55" opacity="0.55"/>
<circle cx="251.1" cy="402.3" r="0.55" opacity="0.82"/>
<circle cx="264.9" cy="401.4" r="0.55" opacity="0.61"/>
<circle cx="273.0" cy="392.0" r="0.55" opacity="0.38"/>
<circle cx="265.3" cy="425.9" r="0.55" opacity="0.34"/>
<circle cx="259.7" cy="417.3" r="0.55" opacity="0.67"/>
<circle cx="266.2" cy="439.4" r="0.55" opacity="0.66"/>
<circle cx="269.2" cy="446.9" r="0.55" opacity="0.83"/>
<circle cx="263.0" cy="466.2" r="0.55" opacity="0.52"/>
<circle cx="236.8" cy="413.8" r="0.55" opacity="0.76"/>
<circle cx="263.7" cy="429.7" r="0.55" opacity="0.58"/>
<circle cx="256.9" cy="421.4" r="0.55" opacity="0.48"/>
<circle cx="259.2" cy="403.3" r="0.55" opacity="0.60"/>
<circle cx="258.2" cy="409.7" r="0.55" opacity="0.48"/>
<circle cx="253.1" cy="387.8" r="0.55" opacity="0.34"/>
<circle cx="272.7" cy="404.0" r="0.55" opacity="0.83"/>
<circle cx="264.2" cy="419.5" r="0.55" opacity="0.32"/>
<circle cx="260.6" cy="389.3" r="0.55" opacity="0.37"/>
<circle cx="244.9" cy="432.8" r="0.55" opacity="0.75"/>
<circle cx="259.3" cy="421.6" r="0.55" opacity="0.81"/>
<circle cx="249.0" cy="392.0" r="0.55" opacity="0.35"/>
<circle cx="270.2" cy="421.0" r="0.55" opacity="0.53"/>
<circle cx="275.4" cy="432.9" r="0.55" opacity="0.65"/>
<circle cx="260.5" cy="398.5" r="0.55" opacity="0.77"/>
<circle cx="273.2" cy="427.4" r="0.55" opacity="0.55"/>
<circle cx="254.4" cy="433.8" r="0.55" opacity="0.81"/>
<circle cx="259.1" cy="420.5" r="0.55" opacity="0.59"/>
<circle cx="259.8" cy="419.5" r="0.55" opacity="0.39"/>
<circle cx="264.3" cy="413.0" r="0.55" opacity="0.47"/>
<circle cx="255.2" cy="446.1" r="0.55" opacity="0.46"/>
<circle cx="254.8" cy="408.0" r="0.55" opacity="0.49"/>
<circle cx="265.2" cy="410.1" r="0.55" opacity="0.31"/>
<circle cx="258.5" cy="377.8" r="0.55" opacity="0.40"/>
<circle cx="242.2" cy="416.9" r="0.55" opacity="0.36"/>
<circle cx="262.8" cy="384.8" r="0.55" opacity="0.57"/>
<circle cx="263.3" cy="387.3" r="0.55" opacity="0.58"/>
<circle cx="251.7" cy="445.9" r="0.55" opacity="0.69"/>
<circle cx="254.5" cy="389.6" r="0.55" opacity="0.49"/>
<circle cx="263.2" cy="412.2" r="0.55" opacity="0.34"/>
<circle cx="259.2" cy="389.6" r="0.55" opacity="0.39"/>
<circle cx="271.9" cy="431.3" r="0.55" opacity="0.78"/>
<circle cx="256.6" cy="390.9" r="0.55" opacity="0.43"/>
<circle cx="257.3" cy="433.7" r="0.55" opacity="0.39"/>
<circle cx="254.0" cy="414.3" r="0.55" opacity="0.83"/>
<circle cx="268.8" cy="402.8" r="0.55" opacity="0.43"/>
<circle cx="265.8" cy="403.6" r="0.55" opacity="0.50"/>
<circle cx="266.9" cy="408.2" r="0.55" opacity="0.56"/>
<circle cx="254.5" cy="407.7" r="0.55" opacity="0.58"/>
<circle cx="265.4" cy="408.6" r="0.55" opacity="0.35"/>
<circle cx="257.7" cy="412.1" r="0.55" opacity="0.31"/>
<circle cx="257.7" cy="424.5" r="0.55" opacity="0.62"/>
<circle cx="247.2" cy="400.7" r="0.55" opacity="0.66"/>
<circle cx="254.4" cy="421.6" r="0.55" opacity="0.84"/>
<circle cx="266.6" cy="439.1" r="0.55" opacity="0.65"/>
<circle cx="273.2" cy="420.4" r="0.55" opacity="0.79"/>
<circle cx="251.0" cy="380.0" r="0.55" opacity="0.75"/>
<circle cx="265.4" cy="430.4" r="0.55" opacity="0.58"/>
<circle cx="266.4" cy="370.7" r="0.55" opacity="0.75"/>
<circle cx="245.8" cy="382.4" r="0.55" opacity="0.68"/>
<circle cx="257.6" cy="391.7" r="0.55" opacity="0.32"/>
<circle cx="264.3" cy="424.8" r="0.55" opacity="0.36"/>
<circle cx="264.4" cy="381.7" r="0.55" opacity="0.65"/>
<circle cx="251.5" cy="382.2" r="0.55" opacity="0.57"/>
<circle cx="272.9" cy="408.9" r="0.55" opacity="0.71"/>
<circle cx="250.2" cy="407.4" r="0.55" opacity="0.66"/>
<circle cx="270.7" cy="423.8" r="0.55" opacity="0.44"/>
<circle cx="264.8" cy="416.5" r="0.55" opacity="0.70"/>
<circle cx="262.9" cy="445.8" r="0.55" opacity="0.84"/>
<circle cx="252.1" cy="408.9" r="0.55" opacity="0.56"/>
<circle cx="254.3" cy="370.5" r="0.55" opacity="0.64"/>
<circle cx="257.6" cy="400.5" r="0.55" opacity="0.38"/>
<circle cx="259.2" cy="447.6" r="0.55" opacity="0.47"/>
<circle cx="258.4" cy="406.4" r="0.55" opacity="0.33"/>
<circle cx="258.2" cy="443.6" r="0.55" opacity="0.68"/>
<circle cx="256.7" cy="390.2" r="0.55" opacity="0.58"/>
<circle cx="251.3" cy="413.9" r="0.55" opacity="0.37"/>
<circle cx="263.4" cy="398.1" r="0.55" opacity="0.84"/>
<circle cx="260.8" cy="406.2" r="0.55" opacity="0.55"/>
<circle cx="253.9" cy="413.9" r="0.55" opacity="0.42"/>
<circle cx="264.4" cy="402.5" r="0.55" opacity="0.62"/>
<circle cx="265.2" cy="430.7" r="0.55" opacity="0.82"/>
<circle cx="268.8" cy="440.9" r="0.55" opacity="0.58"/>
<circle cx="268.4" cy="383.6" r="0.55" opacity="0.43"/>
<circle cx="266.4" cy="391.4" r="0.55" opacity="0.31"/>
<circle cx="268.2" cy="408.6" r="0.55" opacity="0.55"/>
<circle cx="258.2" cy="420.5" r="0.55" opacity="0.49"/>
<circle cx="253.7" cy="450.1" r="0.55" opacity="0.30"/>
<circle cx="272.0" cy="445.5" r="0.55" opacity="0.69"/>
<circle cx="264.6" cy="396.5" r="0.55" opacity="0.50"/>
<circle cx="238.0" cy="462.8" r="0.55" opacity="0.62"/>
<circle cx="254.4" cy="427.5" r="0.55" opacity="0.45"/>
<circle cx="262.8" cy="411.3" r="0.55" opacity="0.76"/>
<circle cx="255.6" cy="462.8" r="0.55" opacity="0.44"/>
<circle cx="258.6" cy="436.6" r="0.55" opacity="0.40"/>
<circle cx="246.4" cy="450.9" r="0.55" opacity="0.79"/>
<circle cx="263.5" cy="376.7" r="0.55" opacity="0.80"/>
<circle cx="268.3" cy="397.0" r="0.55" opacity="0.70"/>
<circle cx="271.1" cy="419.9" r="0.55" opacity="0.55"/>
<circle cx="259.7" cy="373.5" r="0.55" opacity="0.46"/>
<circle cx="275.8" cy="424.6" r="0.55" opacity="0.37"/>
<circle cx="252.7" cy="411.8" r="0.55" opacity="0.46"/>
<circle cx="258.8" cy="443.0" r="0.55" opacity="0.47"/>
<circle cx="252.5" cy="399.5" r="0.55" opacity="0.39"/>
<circle cx="262.2" cy="421.9" r="0.55" opacity="0.80"/>
<circle cx="254.2" cy="408.3" r="0.55" opacity="0.80"/>
<circle cx="267.7" cy="407.4" r="0.55" opacity="0.38"/>
<circle cx="260.7" cy="417.8" r="0.55" opacity="0.49"/>
<circle cx="264.2" cy="417.6" r="0.55" opacity="0.44"/>
<circle cx="245.3" cy="386.8" r="0.55" opacity="0.71"/>
<circle cx="252.9" cy="420.9" r="0.55" opacity="0.59"/>
<circle cx="254.6" cy="423.2" r="0.55" opacity="0.33"/>
<circle cx="256.1" cy="469.9" r="0.55" opacity="0.37"/>
<circle cx="248.9" cy="407.3" r="0.55" opacity="0.77"/>
<circle cx="260.8" cy="426.6" r="0.55" opacity="0.44"/>
<circle cx="252.9" cy="423.4" r="0.55" opacity="0.82"/>
<circle cx="268.4" cy="368.3" r="0.55" opacity="0.31"/>
<circle cx="271.1" cy="415.6" r="0.55" opacity="0.79"/>
<circle cx="249.7" cy="413.3" r="0.55" opacity="0.30"/>
<circle cx="246.2" cy="442.6" r="0.55" opacity="0.75"/>
<circle cx="259.5" cy="419.5" r="0.55" opacity="0.38"/>
<circle cx="248.3" cy="402.9" r="0.55" opacity="0.82"/>
<circle cx="257.6" cy="373.9" r="0.55" opacity="0.72"/>
<circle cx="250.3" cy="416.1" r="0.55" opacity="0.32"/>
<circle cx="260.6" cy="390.9" r="0.55" opacity="0.81"/>
<circle cx="255.6" cy="391.8" r="0.55" opacity="0.37"/>
<circle cx="259.4" cy="442.1" r="0.55" opacity="0.68"/>
<circle cx="261.7" cy="413.9" r="0.55" opacity="0.59"/>
<circle cx="253.1" cy="396.2" r="0.55" opacity="0.42"/>
<circle cx="258.6" cy="405.9" r="0.55" opacity="0.47"/>
<circle cx="241.1" cy="422.8" r="0.55" opacity="0.65"/>
<circle cx="265.8" cy="389.8" r="0.55" opacity="0.43"/>
<circle cx="259.9" cy="469.0" r="0.55" opacity="0.69"/>
<circle cx="258.9" cy="412.7" r="0.55" opacity="0.57"/>
<circle cx="255.9" cy="385.7" r="0.55" opacity="0.44"/>
<circle cx="259.8" cy="414.3" r="0.55" opacity="0.49"/>
<circle cx="249.5" cy="425.4" r="0.55" opacity="0.41"/>
<circle cx="264.4" cy="368.2" r="0.55" opacity="0.58"/>
<circle cx="265.7" cy="388.7" r="0.55" opacity="0.47"/>
<circle cx="263.5" cy="372.7" r="0.55" opacity="0.42"/>
<circle cx="262.3" cy="371.8" r="0.55" opacity="0.82"/>
<circle cx="258.8" cy="376.1" r="0.55" opacity="0.42"/>
<circle cx="255.6" cy="379.7" r="0.55" opacity="0.82"/>
<circle cx="265.0" cy="380.0" r="0.55" opacity="0.42"/>
<circle cx="264.7" cy="375.6" r="0.55" opacity="0.33"/>
<circle cx="266.6" cy="377.8" r="0.55" opacity="0.79"/>
<circle cx="268.0" cy="370.6" r="0.55" opacity="0.85"/>
<circle cx="266.1" cy="374.1" r="0.55" opacity="0.40"/>
<circle cx="269.6" cy="372.8" r="0.55" opacity="0.32"/>
<circle cx="259.5" cy="371.8" r="0.55" opacity="0.51"/>
<circle cx="260.5" cy="378.7" r="0.55" opacity="0.30"/>
<circle cx="261.1" cy="380.6" r="0.55" opacity="0.83"/>
<circle cx="271.2" cy="385.1" r="0.55" opacity="0.41"/>
<circle cx="256.2" cy="383.3" r="0.55" opacity="0.75"/>
<circle cx="260.6" cy="376.7" r="0.55" opacity="0.56"/>
<circle cx="254.2" cy="384.0" r="0.55" opacity="0.41"/>
<circle cx="255.0" cy="384.0" r="0.55" opacity="0.32"/>
<circle cx="254.3" cy="380.9" r="0.55" opacity="0.72"/>
<circle cx="263.3" cy="376.3" r="0.55" opacity="0.33"/>
<circle cx="265.4" cy="374.1" r="0.55" opacity="0.71"/>
<circle cx="265.7" cy="373.3" r="0.55" opacity="0.45"/>
<circle cx="268.7" cy="374.2" r="0.55" opacity="0.44"/>
<circle cx="261.1" cy="371.7" r="0.55" opacity="0.45"/>
<circle cx="270.4" cy="376.2" r="0.55" opacity="0.80"/>
<circle cx="254.0" cy="367.1" r="0.55" opacity="0.31"/>
<circle cx="262.6" cy="381.6" r="0.55" opacity="0.83"/>
<circle cx="266.7" cy="374.6" r="0.55" opacity="0.44"/>
<circle cx="256.7" cy="378.5" r="0.55" opacity="0.81"/>
<circle cx="265.7" cy="384.2" r="0.55" opacity="0.71"/>
<circle cx="265.8" cy="368.3" r="0.55" opacity="0.63"/>
<circle cx="259.9" cy="379.9" r="0.55" opacity="0.50"/>
<circle cx="262.4" cy="374.0" r="0.55" opacity="0.41"/>
<circle cx="262.1" cy="372.2" r="0.55" opacity="0.34"/>
<circle cx="268.2" cy="377.3" r="0.55" opacity="0.48"/>
<circle cx="272.3" cy="374.7" r="0.55" opacity="0.84"/>
<circle cx="261.8" cy="378.1" r="0.55" opacity="0.35"/>
<circle cx="254.1" cy="376.1" r="0.55" opacity="0.55"/>
<circle cx="262.5" cy="381.2" r="0.55" opacity="0.64"/>
<circle cx="258.2" cy="368.6" r="0.55" opacity="0.77"/>
<circle cx="260.7" cy="373.8" r="0.55" opacity="0.76"/>
<circle cx="260.2" cy="382.2" r="0.55" opacity="0.51"/>
<circle cx="261.8" cy="372.7" r="0.55" opacity="0.44"/>
</g>
<ellipse cx="258.9" cy="411.5" rx="7.5" ry="12" fill="#000" opacity="0.3" filter="url(#be2)"/>
<g fill="none" stroke="#0a0a0a" stroke-width="0.95">
<path d="M260.00,379.50 C266.57,379.50 271.90,393.83 271.90,411.50 C271.90,432.92 268.09,443.00 260.00,443.00 C251.91,443.00 248.10,432.92 248.10,411.50 C248.10,393.83 253.43,379.50 260.00,379.50Z"/>
<path d="M259.40,389.50 C265.64,389.50 270.70,399.35 270.70,411.50 C270.70,431.02 267.08,440.20 259.40,440.20 C251.72,440.20 248.10,431.02 248.10,411.50 C248.10,399.35 253.16,389.50 259.40,389.50Z"/>
<path d="M259.00,394.30 C264.91,394.30 269.70,402.00 269.70,411.50 C269.70,429.38 266.28,437.80 259.00,437.80 C251.72,437.80 248.30,429.38 248.30,411.50 C248.30,402.00 253.09,394.30 259.00,394.30Z"/>
<path d="M258.70,397.00 C264.28,397.00 268.80,403.49 268.80,411.50 C268.80,427.89 265.57,435.60 258.70,435.60 C251.83,435.60 248.60,427.89 248.60,411.50 C248.60,403.49 253.12,397.00 258.70,397.00Z"/>
<path d="M258.70,399.00 C263.95,399.00 268.20,404.60 268.20,411.50 C268.20,426.46 265.16,433.50 258.70,433.50 C252.24,433.50 249.20,426.46 249.20,411.50 C249.20,404.60 253.45,399.00 258.70,399.00Z"/>
<path d="M258.70,400.80 C263.62,400.80 267.60,405.59 267.60,411.50 C267.60,425.03 264.75,431.40 258.70,431.40 C252.65,431.40 249.80,425.03 249.80,411.50 C249.80,405.59 253.78,400.80 258.70,400.80Z"/>
<path d="M258.70,402.40 C263.28,402.40 267.00,406.47 267.00,411.50 C267.00,423.60 264.34,429.30 258.70,429.30 C253.06,429.30 250.40,423.60 250.40,411.50 C250.40,406.47 254.12,402.40 258.70,402.40Z"/>
<path d="M258.70,403.90 C262.90,403.90 266.30,407.30 266.30,411.50 C266.30,422.18 263.87,427.20 258.70,427.20 C253.53,427.20 251.10,422.18 251.10,411.50 C251.10,407.30 254.50,403.90 258.70,403.90Z"/>
<path d="M258.70,405.30 C262.46,405.30 265.50,408.08 265.50,411.50 C265.50,420.68 263.32,425.00 258.70,425.00 C254.08,425.00 251.90,420.68 251.90,411.50 C251.90,408.08 254.94,405.30 258.70,405.30Z"/>
<path d="M258.70,406.60 C261.96,406.60 264.60,410.18 264.60,414.60 C264.60,420.04 262.71,422.60 258.70,422.60 C254.69,422.60 252.80,420.04 252.80,414.60 C252.80,410.18 255.44,406.60 258.70,406.60Z"/>
<path d="M258.70,407.80 C261.35,407.80 263.50,410.53 263.50,413.90 C263.50,418.05 261.96,420.00 258.70,420.00 C255.44,420.00 253.90,418.05 253.90,413.90 C253.90,410.53 256.05,407.80 258.70,407.80Z"/>
<path d="M258.70,408.90 C260.63,408.90 262.20,410.71 262.20,412.95 C262.20,415.70 261.08,417.00 258.70,417.00 C256.32,417.00 255.20,415.70 255.20,412.95 C255.20,410.71 256.77,408.90 258.70,408.90Z"/>
<path d="M258.70,410.00 C259.69,410.00 260.50,411.01 260.50,412.25 C260.50,413.78 259.92,414.50 258.70,414.50 C257.48,414.50 256.90,413.78 256.90,412.25 C256.90,411.01 257.71,410.00 258.70,410.00Z"/>
</g>
<g fill="#444">
<circle cx="395.9" cy="447.1" r="0.55" opacity="0.62"/>
<circle cx="378.4" cy="444.1" r="0.55" opacity="0.58"/>
<circle cx="391.7" cy="431.0" r="0.55" opacity="0.85"/>
<circle cx="374.4" cy="446.5" r="0.55" opacity="0.76"/>
<circle cx="416.5" cy="405.4" r="0.55" opacity="0.37"/>
<circle cx="394.6" cy="439.3" r="0.55" opacity="0.81"/>
<circle cx="397.7" cy="426.9" r="0.55" opacity="0.44"/>
<circle cx="409.9" cy="410.2" r="0.55" opacity="0.63"/>
<circle cx="403.1" cy="424.2" r="0.55" opacity="0.38"/>
<circle cx="387.7" cy="447.2" r="0.55" opacity="0.66"/>
<circle cx="392.8" cy="440.2" r="0.55" opacity="0.67"/>
<circle cx="385.9" cy="444.2" r="0.55" opacity="0.74"/>
<circle cx="402.0" cy="423.6" r="0.55" opacity="0.52"/>
<circle cx="398.2" cy="420.6" r="0.55" opacity="0.39"/>
<circle cx="400.9" cy="417.6" r="0.55" opacity="0.47"/>
<circle cx="410.7" cy="408.9" r="0.55" opacity="0.50"/>
<circle cx="407.4" cy="415.2" r="0.55" opacity="0.50"/>
<circle cx="387.2" cy="436.5" r="0.55" opacity="0.30"/>
<circle cx="402.6" cy="409.6" r="0.55" opacity="0.52"/>
<circle cx="407.8" cy="406.7" r="0.55" opacity="0.31"/>
<circle cx="392.1" cy="413.1" r="0.55" opacity="0.35"/>
<circle cx="397.7" cy="423.6" r="0.55" opacity="0.38"/>
<circle cx="378.2" cy="434.2" r="0.55" opacity="0.36"/>
<circle cx="402.5" cy="412.0" r="0.55" opacity="0.41"/>
<circle cx="399.3" cy="438.4" r="0.55" opacity="0.57"/>
<circle cx="387.7" cy="444.9" r="0.55" opacity="0.80"/>
<circle cx="403.6" cy="416.1" r="0.55" opacity="0.73"/>
<circle cx="379.8" cy="444.9" r="0.55" opacity="0.76"/>
<circle cx="388.3" cy="446.3" r="0.55" opacity="0.58"/>
<circle cx="397.0" cy="433.7" r="0.55" opacity="0.70"/>
<circle cx="418.3" cy="406.9" r="0.55" opacity="0.72"/>
<circle cx="383.7" cy="445.8" r="0.55" opacity="0.63"/>
<circle cx="396.4" cy="419.1" r="0.55" opacity="0.53"/>
<circle cx="393.6" cy="424.5" r="0.55" opacity="0.55"/>
<circle cx="403.5" cy="429.2" r="0.55" opacity="0.57"/>
<circle cx="389.8" cy="428.7" r="0.55" opacity="0.55"/>
<circle cx="384.5" cy="441.5" r="0.55" opacity="0.37"/>
<circle cx="400.6" cy="431.7" r="0.55" opacity="0.58"/>
<circle cx="380.9" cy="446.2" r="0.55" opacity="0.70"/>
<circle cx="405.6" cy="411.0" r="0.55" opacity="0.58"/>
<circle cx="396.7" cy="430.2" r="0.55" opacity="0.77"/>
<circle cx="413.7" cy="390.2" r="0.55" opacity="0.41"/>
<circle cx="400.6" cy="401.6" r="0.55" opacity="0.80"/>
<circle cx="389.6" cy="429.4" r="0.55" opacity="0.34"/>
<circle cx="393.1" cy="429.2" r="0.55" opacity="0.79"/>
<circle cx="391.6" cy="433.4" r="0.55" opacity="0.58"/>
<circle cx="413.4" cy="408.2" r="0.55" opacity="0.58"/>
<circle cx="395.2" cy="434.8" r="0.55" opacity="0.39"/>
<circle cx="407.8" cy="392.6" r="0.55" opacity="0.39"/>
<circle cx="412.8" cy="415.2" r="0.55" opacity="0.65"/>
<circle cx="398.1" cy="427.0" r="0.55" opacity="0.62"/>
<circle cx="424.7" cy="416.5" r="0.55" opacity="0.65"/>
<circle cx="395.7" cy="426.2" r="0.55" opacity="0.84"/>
<circle cx="394.7" cy="428.3" r="0.55" opacity="0.54"/>
<circle cx="386.9" cy="439.4" r="0.55" opacity="0.75"/>
<circle cx="379.5" cy="425.2" r="0.55" opacity="0.62"/>
<circle cx="403.4" cy="417.1" r="0.55" opacity="0.32"/>
<circle cx="381.7" cy="438.6" r="0.55" opacity="0.58"/>
<circle cx="414.1" cy="408.1" r="0.55" opacity="0.66"/>
<circle cx="386.9" cy="449.0" r="0.55" opacity="0.36"/>
<circle cx="394.3" cy="439.3" r="0.55" opacity="0.62"/>
<circle cx="383.5" cy="435.4" r="0.55" opacity="0.37"/>
<circle cx="413.0" cy="406.3" r="0.55" opacity="0.35"/>
<circle cx="409.3" cy="411.1" r="0.55" opacity="0.52"/>
<circle cx="397.9" cy="437.4" r="0.55" opacity="0.61"/>
<circle cx="389.3" cy="427.8" r="0.55" opacity="0.82"/>
<circle cx="406.1" cy="425.2" r="0.55" opacity="0.32"/>
<circle cx="395.7" cy="425.7" r="0.55" opacity="0.33"/>
<circle cx="414.4" cy="411.6" r="0.55" opacity="0.82"/>
<circle cx="388.2" cy="450.0" r="0.55" opacity="0.58"/>
<circle cx="404.1" cy="414.8" r="0.55" opacity="0.47"/>
<circle cx="402.2" cy="438.4" r="0.55" opacity="0.73"/>
<circle cx="415.9" cy="414.7" r="0.55" opacity="0.71"/>
<circle cx="396.5" cy="420.7" r="0.55" opacity="0.42"/>
<circle cx="384.8" cy="446.3" r="0.55" opacity="0.48"/>
<circle cx="402.9" cy="402.5" r="0.55" opacity="0.69"/>
<circle cx="384.5" cy="434.7" r="0.55" opacity="0.73"/>
<circle cx="398.0" cy="431.7" r="0.55" opacity="0.83"/>
<circle cx="389.1" cy="438.5" r="0.55" opacity="0.44"/>
<circle cx="388.5" cy="425.0" r="0.55" opacity="0.71"/>
<circle cx="395.7" cy="430.3" r="0.55" opacity="0.43"/>
<circle cx="406.1" cy="398.4" r="0.55" opacity="0.67"/>
<circle cx="404.0" cy="403.1" r="0.55" opacity="0.68"/>
<circle cx="402.0" cy="410.5" r="0.55" opacity="0.61"/>
<circle cx="393.3" cy="442.1" r="0.55" opacity="0.34"/>
<circle cx="412.8" cy="405.5" r="0.55" opacity="0.36"/>
<circle cx="410.9" cy="406.1" r="0.55" opacity="0.32"/>
<circle cx="379.7" cy="440.6" r="0.55" opacity="0.68"/>
<circle cx="412.8" cy="416.1" r="0.55" opacity="0.50"/>
<circle cx="413.7" cy="398.6" r="0.55" opacity="0.34"/>
<circle cx="421.9" cy="399.8" r="0.55" opacity="0.36"/>
<circle cx="389.1" cy="440.7" r="0.55" opacity="0.77"/>
<circle cx="401.8" cy="401.7" r="0.55" opacity="0.65"/>
<circle cx="392.8" cy="437.1" r="0.55" opacity="0.72"/>
<circle cx="385.5" cy="445.0" r="0.55" opacity="0.31"/>
<circle cx="388.0" cy="445.7" r="0.55" opacity="0.50"/>
<circle cx="398.3" cy="432.5" r="0.55" opacity="0.77"/>
<circle cx="407.6" cy="420.2" r="0.55" opacity="0.54"/>
<circle cx="402.4" cy="418.4" r="0.55" opacity="0.60"/>
<circle cx="389.9" cy="437.3" r="0.55" opacity="0.75"/>
<circle cx="390.5" cy="441.5" r="0.55" opacity="0.72"/>
<circle cx="420.6" cy="401.3" r="0.55" opacity="0.57"/>
<circle cx="410.7" cy="416.1" r="0.55" opacity="0.49"/>
<circle cx="408.4" cy="421.6" r="0.55" opacity="0.46"/>
<circle cx="386.3" cy="433.1" r="0.55" opacity="0.36"/>
<circle cx="411.1" cy="422.9" r="0.55" opacity="0.68"/>
<circle cx="404.2" cy="406.9" r="0.55" opacity="0.52"/>
<circle cx="396.2" cy="428.8" r="0.55" opacity="0.79"/>
<circle cx="383.0" cy="452.9" r="0.55" opacity="0.80"/>
<circle cx="389.8" cy="432.8" r="0.55" opacity="0.43"/>
<circle cx="387.6" cy="425.1" r="0.55" opacity="0.71"/>
<circle cx="400.1" cy="421.7" r="0.55" opacity="0.39"/>
<circle cx="404.9" cy="400.1" r="0.55" opacity="0.39"/>
<circle cx="397.0" cy="420.9" r="0.55" opacity="0.37"/>
<circle cx="399.8" cy="424.2" r="0.55" opacity="0.41"/>
<circle cx="388.2" cy="424.8" r="0.55" opacity="0.39"/>
<circle cx="386.4" cy="447.1" r="0.55" opacity="0.59"/>
<circle cx="384.8" cy="445.1" r="0.55" opacity="0.84"/>
<circle cx="417.1" cy="422.0" r="0.55" opacity="0.36"/>
<circle cx="403.8" cy="429.8" r="0.55" opacity="0.70"/>
<circle cx="398.4" cy="435.7" r="0.55" opacity="0.36"/>
<circle cx="386.9" cy="440.6" r="0.55" opacity="0.52"/>
<circle cx="405.6" cy="404.4" r="0.55" opacity="0.65"/>
<circle cx="401.5" cy="432.7" r="0.55" opacity="0.52"/>
<circle cx="411.1" cy="409.8" r="0.55" opacity="0.62"/>
<circle cx="403.0" cy="414.4" r="0.55" opacity="0.70"/>
<circle cx="412.2" cy="397.6" r="0.55" opacity="0.77"/>
<circle cx="400.3" cy="411.3" r="0.55" opacity="0.47"/>
<circle cx="407.0" cy="421.9" r="0.55" opacity="0.73"/>
<circle cx="402.4" cy="411.3" r="0.55" opacity="0.53"/>
<circle cx="392.4" cy="423.3" r="0.55" opacity="0.67"/>
<circle cx="415.9" cy="410.8" r="0.55" opacity="0.73"/>
<circle cx="379.3" cy="431.5" r="0.55" opacity="0.32"/>
<circle cx="404.6" cy="431.0" r="0.55" opacity="0.82"/>
<circle cx="404.4" cy="428.3" r="0.55" opacity="0.60"/>
<circle cx="397.6" cy="413.5" r="0.55" opacity="0.76"/>
<circle cx="387.4" cy="431.1" r="0.55" opacity="0.42"/>
<circle cx="397.0" cy="421.6" r="0.55" opacity="0.37"/>
<circle cx="413.3" cy="402.3" r="0.55" opacity="0.45"/>
<circle cx="400.3" cy="430.5" r="0.55" opacity="0.53"/>
<circle cx="402.2" cy="418.5" r="0.55" opacity="0.42"/>
<circle cx="412.5" cy="410.4" r="0.55" opacity="0.42"/>
<circle cx="405.3" cy="412.3" r="0.55" opacity="0.37"/>
<circle cx="410.3" cy="403.9" r="0.55" opacity="0.56"/>
<circle cx="402.2" cy="435.9" r="0.55" opacity="0.49"/>
<circle cx="407.0" cy="408.9" r="0.55" opacity="0.56"/>
<circle cx="388.3" cy="434.4" r="0.55" opacity="0.76"/>
<circle cx="395.6" cy="428.8" r="0.55" opacity="0.51"/>
<circle cx="386.5" cy="438.9" r="0.55" opacity="0.30"/>
<circle cx="404.7" cy="418.0" r="0.55" opacity="0.47"/>
<circle cx="390.2" cy="429.4" r="0.55" opacity="0.66"/>
<circle cx="403.1" cy="427.2" r="0.55" opacity="0.33"/>
<circle cx="417.1" cy="403.2" r="0.55" opacity="0.38"/>
<circle cx="408.6" cy="407.7" r="0.55" opacity="0.31"/>
<circle cx="411.0" cy="398.9" r="0.55" opacity="0.36"/>
<circle cx="386.8" cy="452.3" r="0.55" opacity="0.49"/>
<circle cx="394.2" cy="436.8" r="0.55" opacity="0.39"/>
<circle cx="403.8" cy="399.4" r="0.55" opacity="0.67"/>
<circle cx="413.9" cy="395.1" r="0.55" opacity="0.41"/>
<circle cx="395.7" cy="413.6" r="0.55" opacity="0.54"/>
<circle cx="407.0" cy="404.4" r="0.55" opacity="0.43"/>
<circle cx="383.8" cy="443.1" r="0.55" opacity="0.56"/>
<circle cx="379.5" cy="443.1" r="0.55" opacity="0.60"/>
<circle cx="420.9" cy="407.3" r="0.55" opacity="0.56"/>
<circle cx="394.8" cy="412.8" r="0.55" opacity="0.51"/>
<circle cx="397.4" cy="428.5" r="0.55" opacity="0.65"/>
<circle cx="410.1" cy="419.5" r="0.55" opacity="0.68"/>
<circle cx="405.1" cy="417.0" r="0.55" opacity="0.58"/>
<circle cx="398.6" cy="424.9" r="0.55" opacity="0.70"/>
<circle cx="396.5" cy="428.0" r="0.55" opacity="0.50"/>
<circle cx="387.8" cy="424.8" r="0.55" opacity="0.42"/>
<circle cx="389.6" cy="431.5" r="0.55" opacity="0.75"/>
<circle cx="393.6" cy="430.4" r="0.55" opacity="0.58"/>
<circle cx="375.3" cy="435.8" r="0.55" opacity="0.66"/>
<circle cx="405.6" cy="414.6" r="0.55" opacity="0.46"/>
<circle cx="394.6" cy="413.5" r="0.55" opacity="0.32"/>
<circle cx="410.8" cy="409.3" r="0.55" opacity="0.33"/>
<circle cx="394.8" cy="435.1" r="0.55" opacity="0.81"/>
<circle cx="396.4" cy="411.4" r="0.55" opacity="0.80"/>
<circle cx="396.1" cy="414.2" r="0.55" opacity="0.68"/>
<circle cx="399.7" cy="416.7" r="0.55" opacity="0.67"/>
<circle cx="396.8" cy="424.6" r="0.55" opacity="0.40"/>
<circle cx="384.1" cy="436.1" r="0.55" opacity="0.66"/>
<circle cx="397.8" cy="422.9" r="0.55" opacity="0.61"/>
<circle cx="387.9" cy="442.6" r="0.55" opacity="0.48"/>
<circle cx="387.6" cy="418.5" r="0.55" opacity="0.33"/>
<circle cx="403.0" cy="422.3" r="0.55" opacity="0.75"/>
<circle cx="405.8" cy="418.3" r="0.55" opacity="0.31"/>
<circle cx="383.3" cy="423.6" r="0.55" opacity="0.84"/>
<circle cx="395.0" cy="427.6" r="0.55" opacity="0.65"/>
<circle cx="388.8" cy="440.2" r="0.55" opacity="0.30"/>
<circle cx="414.6" cy="425.7" r="0.55" opacity="0.35"/>
<circle cx="411.3" cy="407.3" r="0.55" opacity="0.70"/>
<circle cx="388.9" cy="434.4" r="0.55" opacity="0.33"/>
<circle cx="404.9" cy="400.8" r="0.55" opacity="0.70"/>
<circle cx="377.9" cy="439.5" r="0.55" opacity="0.55"/>
<circle cx="412.3" cy="417.6" r="0.55" opacity="0.69"/>
<circle cx="389.3" cy="450.2" r="0.55" opacity="0.75"/>
<circle cx="380.4" cy="454.3" r="0.55" opacity="0.39"/>
<circle cx="408.3" cy="407.1" r="0.55" opacity="0.50"/>
<circle cx="392.9" cy="424.4" r="0.55" opacity="0.38"/>
<circle cx="402.9" cy="416.1" r="0.55" opacity="0.65"/>
<circle cx="387.9" cy="435.5" r="0.55" opacity="0.82"/>
<circle cx="403.5" cy="408.9" r="0.55" opacity="0.33"/>
<circle cx="411.1" cy="391.4" r="0.55" opacity="0.48"/>
<circle cx="411.9" cy="418.2" r="0.55" opacity="0.63"/>
<circle cx="381.1" cy="439.6" r="0.55" opacity="0.51"/>
<circle cx="394.9" cy="408.8" r="0.55" opacity="0.74"/>
<circle cx="394.9" cy="435.9" r="0.55" opacity="0.53"/>
<circle cx="405.6" cy="410.1" r="0.55" opacity="0.32"/>
<circle cx="442.5" cy="452.2" r="0.55" opacity="0.51"/>
<circle cx="417.3" cy="410.2" r="0.55" opacity="0.63"/>
<circle cx="441.3" cy="425.9" r="0.55" opacity="0.41"/>
<circle cx="408.8" cy="407.5" r="0.55" opacity="0.50"/>
<circle cx="440.9" cy="448.2" r="0.55" opacity="0.67"/>
<circle cx="415.5" cy="465.4" r="0.55" opacity="0.52"/>
<circle cx="435.5" cy="429.4" r="0.55" opacity="0.36"/>
<circle cx="438.8" cy="442.4" r="0.55" opacity="0.61"/>
<circle cx="425.7" cy="464.7" r="0.55" opacity="0.60"/>
<circle cx="415.5" cy="455.2" r="0.55" opacity="0.51"/>
<circle cx="445.4" cy="454.6" r="0.55" opacity="0.46"/>
<circle cx="431.5" cy="427.2" r="0.55" opacity="0.34"/>
<circle cx="413.7" cy="450.5" r="0.55" opacity="0.41"/>
<circle cx="430.4" cy="462.5" r="0.55" opacity="0.43"/>
<circle cx="428.3" cy="442.9" r="0.55" opacity="0.70"/>
<circle cx="421.8" cy="443.9" r="0.55" opacity="0.30"/>
<circle cx="433.5" cy="442.2" r="0.55" opacity="0.52"/>
<circle cx="420.5" cy="430.9" r="0.55" opacity="0.48"/>
<circle cx="444.0" cy="450.2" r="0.55" opacity="0.47"/>
<circle cx="430.5" cy="438.0" r="0.55" opacity="0.44"/>
<circle cx="447.6" cy="467.7" r="0.55" opacity="0.60"/>
<circle cx="441.8" cy="451.9" r="0.55" opacity="0.27"/>
<circle cx="414.0" cy="437.2" r="0.55" opacity="0.33"/>
<circle cx="408.8" cy="459.4" r="0.55" opacity="0.64"/>
<circle cx="425.6" cy="446.4" r="0.55" opacity="0.68"/>
<circle cx="445.9" cy="459.9" r="0.55" opacity="0.43"/>
<circle cx="410.4" cy="448.5" r="0.55" opacity="0.68"/>
<circle cx="416.6" cy="419.0" r="0.55" opacity="0.68"/>
<circle cx="435.1" cy="431.0" r="0.55" opacity="0.43"/>
<circle cx="425.2" cy="462.3" r="0.55" opacity="0.70"/>
<circle cx="415.0" cy="475.1" r="0.55" opacity="0.27"/>
<circle cx="416.5" cy="419.3" r="0.55" opacity="0.66"/>
<circle cx="442.7" cy="467.7" r="0.55" opacity="0.27"/>
<circle cx="440.4" cy="434.2" r="0.55" opacity="0.69"/>
<circle cx="407.5" cy="417.7" r="0.55" opacity="0.32"/>
<circle cx="439.0" cy="462.3" r="0.55" opacity="0.38"/>
<circle cx="431.6" cy="431.1" r="0.55" opacity="0.59"/>
<circle cx="409.7" cy="434.5" r="0.55" opacity="0.31"/>
<circle cx="426.7" cy="451.0" r="0.55" opacity="0.33"/>
<circle cx="415.7" cy="455.0" r="0.55" opacity="0.26"/>
<circle cx="437.3" cy="458.9" r="0.55" opacity="0.34"/>
<circle cx="406.6" cy="450.1" r="0.55" opacity="0.67"/>
<circle cx="444.0" cy="435.0" r="0.55" opacity="0.65"/>
<circle cx="411.3" cy="433.2" r="0.55" opacity="0.67"/>
<circle cx="442.9" cy="442.4" r="0.55" opacity="0.53"/>
<circle cx="425.4" cy="424.1" r="0.55" opacity="0.46"/>
<circle cx="433.3" cy="465.2" r="0.55" opacity="0.31"/>
<circle cx="415.0" cy="463.7" r="0.55" opacity="0.50"/>
<circle cx="411.5" cy="448.8" r="0.55" opacity="0.64"/>
<circle cx="417.0" cy="432.1" r="0.55" opacity="0.37"/>
<circle cx="442.8" cy="444.9" r="0.55" opacity="0.40"/>
<circle cx="412.6" cy="426.0" r="0.55" opacity="0.66"/>
<circle cx="410.1" cy="440.8" r="0.55" opacity="0.69"/>
<circle cx="407.6" cy="458.8" r="0.55" opacity="0.35"/>
<circle cx="394.5" cy="457.7" r="0.55" opacity="0.44"/>
<circle cx="399.8" cy="453.5" r="0.55" opacity="0.80"/>
<circle cx="404.0" cy="476.9" r="0.55" opacity="0.76"/>
<circle cx="404.1" cy="473.2" r="0.55" opacity="0.33"/>
<circle cx="402.9" cy="466.9" r="0.55" opacity="0.45"/>
<circle cx="401.1" cy="469.9" r="0.55" opacity="0.47"/>
<circle cx="399.9" cy="445.2" r="0.55" opacity="0.30"/>
<circle cx="403.6" cy="446.9" r="0.55" opacity="0.52"/>
<circle cx="393.6" cy="473.7" r="0.55" opacity="0.41"/>
<circle cx="397.1" cy="446.7" r="0.55" opacity="0.69"/>
<circle cx="398.6" cy="466.3" r="0.55" opacity="0.40"/>
<circle cx="402.3" cy="462.5" r="0.55" opacity="0.55"/>
<circle cx="401.2" cy="450.1" r="0.55" opacity="0.40"/>
<circle cx="392.8" cy="470.0" r="0.55" opacity="0.59"/>
<circle cx="393.9" cy="447.5" r="0.55" opacity="0.33"/>
<circle cx="399.3" cy="466.7" r="0.55" opacity="0.33"/>
<circle cx="393.9" cy="470.0" r="0.55" opacity="0.47"/>
<circle cx="406.5" cy="458.2" r="0.55" opacity="0.31"/>
<circle cx="401.8" cy="446.9" r="0.55" opacity="0.72"/>
<circle cx="397.6" cy="453.7" r="0.55" opacity="0.60"/>
<circle cx="402.7" cy="440.2" r="0.55" opacity="0.56"/>
<circle cx="393.2" cy="444.5" r="0.55" opacity="0.66"/>
<circle cx="402.4" cy="470.2" r="0.55" opacity="0.73"/>
<circle cx="395.9" cy="454.1" r="0.55" opacity="0.68"/>
<circle cx="408.5" cy="442.3" r="0.55" opacity="0.74"/>
<circle cx="406.7" cy="459.0" r="0.55" opacity="0.57"/>
<circle cx="398.0" cy="459.9" r="0.55" opacity="0.31"/>
<circle cx="404.2" cy="446.7" r="0.55" opacity="0.35"/>
<circle cx="399.1" cy="449.3" r="0.55" opacity="0.71"/>
<circle cx="402.7" cy="465.9" r="0.55" opacity="0.40"/>
<circle cx="400.5" cy="440.7" r="0.55" opacity="0.60"/>
<circle cx="393.5" cy="466.0" r="0.55" opacity="0.35"/>
<circle cx="396.6" cy="472.2" r="0.55" opacity="0.66"/>
<circle cx="403.0" cy="458.3" r="0.55" opacity="0.55"/>
<circle cx="400.9" cy="450.3" r="0.55" opacity="0.36"/>
<circle cx="397.3" cy="461.9" r="0.55" opacity="0.73"/>
<circle cx="401.8" cy="445.4" r="0.55" opacity="0.59"/>
<circle cx="399.9" cy="470.6" r="0.55" opacity="0.77"/>
<circle cx="396.4" cy="454.4" r="0.55" opacity="0.51"/>
<circle cx="403.9" cy="454.6" r="0.55" opacity="0.77"/>
<circle cx="393.8" cy="468.7" r="0.55" opacity="0.47"/>
<circle cx="400.3" cy="456.1" r="0.55" opacity="0.79"/>
<circle cx="405.4" cy="469.8" r="0.55" opacity="0.76"/>
<circle cx="404.6" cy="442.0" r="0.55" opacity="0.56"/>
<circle cx="404.2" cy="455.6" r="0.55" opacity="0.62"/>
<circle cx="398.2" cy="453.5" r="0.55" opacity="0.57"/>
<circle cx="405.8" cy="458.7" r="0.55" opacity="0.31"/>
<circle cx="402.7" cy="445.2" r="0.55" opacity="0.78"/>
<circle cx="402.3" cy="463.4" r="0.55" opacity="0.70"/>
<circle cx="401.2" cy="463.7" r="0.55" opacity="0.43"/>
<circle cx="398.9" cy="465.1" r="0.55" opacity="0.44"/>
<circle cx="396.4" cy="449.3" r="0.55" opacity="0.56"/>
<circle cx="406.0" cy="451.3" r="0.55" opacity="0.62"/>
<circle cx="405.9" cy="475.4" r="0.55" opacity="0.56"/>
<circle cx="405.5" cy="449.9" r="0.55" opacity="0.53"/>
<circle cx="396.7" cy="444.6" r="0.55" opacity="0.37"/>
<circle cx="399.3" cy="450.9" r="0.55" opacity="0.50"/>
<circle cx="398.9" cy="443.3" r="0.55" opacity="0.57"/>
<circle cx="404.4" cy="471.1" r="0.55" opacity="0.60"/>
<circle cx="392.1" cy="447.4" r="0.55" opacity="0.66"/>
<circle cx="396.3" cy="457.1" r="0.55" opacity="0.57"/>
<circle cx="394.9" cy="451.5" r="0.55" opacity="0.42"/>
<circle cx="395.6" cy="448.2" r="0.55" opacity="0.56"/>
<circle cx="394.1" cy="440.4" r="0.55" opacity="0.48"/>
<circle cx="405.3" cy="471.9" r="0.55" opacity="0.42"/>
<circle cx="393.5" cy="450.5" r="0.55" opacity="0.79"/>
<circle cx="397.6" cy="450.9" r="0.55" opacity="0.69"/>
<circle cx="401.2" cy="472.2" r="0.55" opacity="0.52"/>
<circle cx="401.9" cy="442.3" r="0.55" opacity="0.49"/>
<circle cx="403.6" cy="448.3" r="0.55" opacity="0.78"/>
<circle cx="399.8" cy="452.5" r="0.55" opacity="0.48"/>
<circle cx="396.5" cy="465.0" r="0.55" opacity="0.61"/>
<circle cx="406.5" cy="459.2" r="0.55" opacity="0.67"/>
<circle cx="400.4" cy="469.0" r="0.55" opacity="0.65"/>
<circle cx="393.2" cy="473.8" r="0.55" opacity="0.36"/>
<circle cx="400.4" cy="468.3" r="0.55" opacity="0.59"/>
<circle cx="399.6" cy="458.4" r="0.55" opacity="0.78"/>
<circle cx="394.4" cy="469.0" r="0.55" opacity="0.74"/>
<circle cx="397.3" cy="462.5" r="0.55" opacity="0.49"/>
<circle cx="393.7" cy="466.8" r="0.55" opacity="0.45"/>
<circle cx="402.0" cy="454.5" r="0.55" opacity="0.58"/>
<circle cx="396.0" cy="469.1" r="0.55" opacity="0.72"/>
<circle cx="403.5" cy="458.5" r="0.55" opacity="0.52"/>
<circle cx="402.1" cy="445.4" r="0.55" opacity="0.59"/>
<circle cx="404.7" cy="461.5" r="0.55" opacity="0.34"/>
<circle cx="404.7" cy="471.2" r="0.55" opacity="0.72"/>
<circle cx="397.4" cy="475.5" r="0.55" opacity="0.40"/>
<circle cx="405.9" cy="441.8" r="0.55" opacity="0.58"/>
<circle cx="400.2" cy="459.9" r="0.55" opacity="0.80"/>
<circle cx="392.8" cy="465.4" r="0.55" opacity="0.49"/>
<circle cx="399.2" cy="453.2" r="0.55" opacity="0.60"/>
<circle cx="411.7" cy="459.4" r="0.55" opacity="0.35"/>
<circle cx="395.7" cy="460.8" r="0.55" opacity="0.59"/>
<circle cx="404.3" cy="472.6" r="0.55" opacity="0.78"/>
<circle cx="393.6" cy="463.1" r="0.55" opacity="0.80"/>
<circle cx="400.5" cy="452.7" r="0.55" opacity="0.57"/>
<circle cx="401.5" cy="451.8" r="0.55" opacity="0.79"/>
<circle cx="396.6" cy="470.6" r="0.55" opacity="0.56"/>
<circle cx="409.8" cy="465.5" r="0.55" opacity="0.71"/>
<circle cx="384.6" cy="439.4" r="0.55" opacity="0.74"/>
<circle cx="361.8" cy="435.8" r="0.55" opacity="0.56"/>
<circle cx="365.2" cy="436.8" r="0.55" opacity="0.39"/>
<circle cx="352.3" cy="430.3" r="0.55" opacity="0.48"/>
<circle cx="384.7" cy="430.0" r="0.55" opacity="0.62"/>
<circle cx="346.7" cy="428.0" r="0.55" opacity="0.45"/>
<circle cx="372.6" cy="437.7" r="0.55" opacity="0.30"/>
<circle cx="357.2" cy="436.9" r="0.55" opacity="0.63"/>
<circle cx="352.9" cy="429.6" r="0.55" opacity="0.55"/>
<circle cx="367.1" cy="433.4" r="0.55" opacity="0.57"/>
<circle cx="368.0" cy="432.3" r="0.55" opacity="0.38"/>
<circle cx="375.4" cy="435.1" r="0.55" opacity="0.35"/>
<circle cx="349.0" cy="436.3" r="0.55" opacity="0.71"/>
<circle cx="369.5" cy="438.3" r="0.55" opacity="0.70"/>
<circle cx="357.9" cy="434.5" r="0.55" opacity="0.66"/>
<circle cx="359.2" cy="435.5" r="0.55" opacity="0.35"/>
<circle cx="381.2" cy="436.8" r="0.55" opacity="0.59"/>
<circle cx="359.0" cy="430.2" r="0.55" opacity="0.33"/>
<circle cx="380.6" cy="435.2" r="0.55" opacity="0.59"/>
<circle cx="383.4" cy="428.8" r="0.55" opacity="0.42"/>
<circle cx="346.8" cy="436.1" r="0.55" opacity="0.77"/>
<circle cx="379.2" cy="430.6" r="0.55" opacity="0.71"/>
<circle cx="369.1" cy="438.5" r="0.55" opacity="0.77"/>
<circle cx="354.7" cy="432.8" r="0.55" opacity="0.49"/>
<circle cx="373.7" cy="434.6" r="0.55" opacity="0.74"/>
<circle cx="364.4" cy="437.4" r="0.55" opacity="0.70"/>
<circle cx="354.7" cy="435.7" r="0.55" opacity="0.39"/>
<circle cx="383.9" cy="437.3" r="0.55" opacity="0.45"/>
<circle cx="367.5" cy="437.7" r="0.55" opacity="0.49"/>
<circle cx="361.1" cy="437.3" r="0.55" opacity="0.33"/>
<circle cx="349.9" cy="435.7" r="0.55" opacity="0.42"/>
<circle cx="352.6" cy="430.7" r="0.55" opacity="0.44"/>
<circle cx="358.7" cy="435.3" r="0.55" opacity="0.38"/>
<circle cx="373.2" cy="436.6" r="0.55" opacity="0.72"/>
<circle cx="350.1" cy="435.7" r="0.55" opacity="0.52"/>
<circle cx="378.5" cy="434.8" r="0.55" opacity="0.48"/>
</g>
<g fill="none" stroke="#0a0a0a" stroke-width="1.05" stroke-linejoin="round">
<path d="M341.7,440.4 L386,440.8 C394,441.2 400.9,445 400.9,452 C400.9,458 397.5,460 394,464.5 C391,468.5 385.5,470 385,472.5 C384.8,475 390,476.5 393.5,478.2"/>
<path d="M341.7,441.7 L384.2,442.1 C392.2,442.4 397.2,449.0 397.2,454.0 C397.2,459.0 390.2,471.8 381.2,474.0 L341.7,474.3"/>
<path d="M341.7,442.9 L381.5,443.3 C389.5,443.6 394.5,449.0 394.5,454.0 C394.5,459.0 386.7,469.1 377.7,471.3 L341.7,471.6"/>
<path d="M341.7,444.1 L378.8,444.5 C386.8,444.8 391.8,449.0 391.8,454.0 C391.8,459.0 383.2,466.6 374.2,468.8 L341.7,469.1"/>
<path d="M341.7,445.3 L375.5,445.7 C383.5,446.0 388.5,449.0 388.5,454.0 C388.5,459.0 379.1,464.3 370.1,466.5 L341.7,466.8"/>
<path d="M341.7,446.5 L372.0,446.9 C380.0,447.2 385.0,449.0 385.0,454.0 C385.0,459.0 374.8,462.3 365.8,464.5 L341.7,464.8"/>
<path d="M347.2,447.7 L368.7,448.1 C376.7,448.4 381.7,450.0 381.7,454.0 C381.7,458.0 370.7,461.0 361.7,462.8 L347.2,463.0 C343.2,462.8 343.2,447.7 347.2,447.7Z"/>
<path d="M348.0,448.9 L365.4,449.3 C373.4,449.6 378.4,450.0 378.4,454.0 C378.4,458.0 366.6,459.5 357.6,461.3 L348.0,461.5 C344.0,461.3 344.0,448.9 348.0,448.9Z"/>
<ellipse cx="362.0" cy="454.9" rx="14.5" ry="5.4"/>
<ellipse cx="360.0" cy="454.9" rx="11" ry="4.5"/>
<ellipse cx="358.5" cy="454.9" rx="7.6" ry="3.5"/>
<ellipse cx="357.5" cy="454.9" rx="4.6" ry="2.4"/>
<ellipse cx="359" cy="472.7" rx="4.2" ry="1.5"/>
<ellipse cx="389.6" cy="429" rx="5.3" ry="4.1" transform="rotate(-12 389.6 429)"/>
</g>
</svg></body></html>
